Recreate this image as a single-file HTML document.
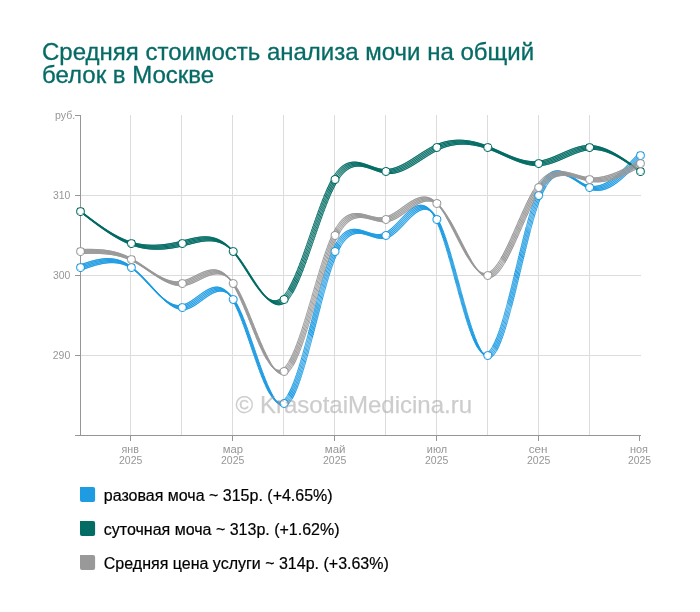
<!DOCTYPE html>
<html lang="ru"><head><meta charset="utf-8"><title>Средняя стоимость анализа мочи на общий белок в Москве</title>
<style>
html,body{margin:0;padding:0;background:#fff}
body{width:700px;height:612px;overflow:hidden}
svg{display:block}
text{font-family:"Liberation Sans",Arial,Helvetica,sans-serif;will-change:opacity}
</style></head><body>
<svg width="700" height="612" viewBox="0 0 700 612">
<filter id="brush" filterUnits="userSpaceOnUse" x="0" y="0" width="700" height="612" color-interpolation-filters="sRGB"><feOffset in="SourceGraphic" dx="-2" dy="-2" result="a"/><feOffset in="SourceGraphic" dx="-1" dy="-1" result="b"/><feOffset in="SourceGraphic" dx="1" dy="1" result="c"/><feOffset in="SourceGraphic" dx="2" dy="2" result="d"/><feMerge><feMergeNode in="a"/><feMergeNode in="b"/><feMergeNode in="SourceGraphic"/><feMergeNode in="c"/><feMergeNode in="d"/></feMerge></filter>
<rect width="700" height="612" fill="#fff"/>
<g class="title" fill="#066b65" stroke="#066b65" stroke-width=".3" font-size="24"><text x="42.0" y="59.8">Средняя стоимость анализа мочи на общий</text><text x="42.0" y="83.4">белок в Москве</text></g>
<path class="grid" d="M130.5 115V436M181.5 115V436M232.5 115V436M283.5 115V436M334.5 115V436M385.5 115V436M436.5 115V436M487.5 115V436M538.5 115V436M589.5 115V436M80 355.5H641M80 275.5H641M80 195.5H641" stroke="#dcdcdc" stroke-width="1" fill="none"/>
<path class="axis" d="M80.5 115V436M75 435.5H641M75 115.5H81M75 195.5H81M75 275.5H81M75 355.5H81M130.5 435V441M232.5 435V441M334.5 435V441M436.5 435V441M538.5 435V441M639.5 435V441" stroke="#969696" stroke-width="1" fill="none"/>
<g class="ylab" fill="#969696" font-size="10">
<text transform="translate(55.02 119) scale(1.06 1)">руб.</text><text transform="translate(52.9 199) scale(1.04 1)">310</text><text transform="translate(52.9 279) scale(1.04 1)">300</text><text transform="translate(52.77 359) scale(1.05 1)">290</text>
</g>
<g class="xlab" fill="#969696" font-size="10">
<text transform="translate(121.51 453) scale(1.07 1)">янв</text><text transform="translate(118.97 464) scale(1.05 1)">2025</text>
<text transform="translate(222.82 453) scale(1.13 1)">мар</text><text transform="translate(220.97 464) scale(1.05 1)">2025</text>
<text transform="translate(324.8 453) scale(1.15 1)">май</text><text transform="translate(322.97 464) scale(1.05 1)">2025</text>
<text transform="translate(426.84 453) scale(1.09 1)">июл</text><text transform="translate(424.97 464) scale(1.05 1)">2025</text>
<text transform="translate(528.7 453) scale(1.17 1)">сен</text><text transform="translate(526.97 464) scale(1.05 1)">2025</text>
<text transform="translate(629.94 453) scale(1.09 1)">ноя</text><text transform="translate(627.98 464) scale(1.04 1)">2025</text>
</g>
<g class="line blue" filter="url(#brush)" stroke="#1e9be1" stroke-width="1" stroke-linecap="square" fill="none">
<path d="M80.5 267.5zm1.02-.36zm1.02-.35zm1.01-.36zm1.02-.35zm1.02-.35zm1.02-.34zm1.02-.34zm1.02-.33zm1.01-.33zm1.02-.32zm1.02-.31zm1.02-.3zm1.02-.29zm1.01-.28zm1.02-.26zm1.02-.26zm1.02-.24zm1.02-.22zm1.02-.21zm1.01-.2zm1.02-.17zm1.02-.16zm1.02-.14zm1.02-.12zm1.01-.1zm1.02-.08zm1.02-.06zm1.02-.03zm1.02-.01zm1.02 .02zm1.01 .04zm1.02 .07zm1.02 .09zm1.02 .12zm1.02 .16zm1.01 .18zm1.02 .21zm1.02 .25zm1.02 .28zm1.02 .31zm1.02 .34zm1.01 .39zm1.02 .41zm1.02 .46zm1.02 .49zm1.02 .53zm1.01 .57zm1.02 .61zm1.02 .65zm1.02 .69zm1.02 .74zm1.02 .77zm1.01 .81zm1.02 .85zm1.02 .89zm1.02 .91zm1.02 .94zm1.01 .97zm1.02 .99zm1.02 1.02zm1.02 1.03zm1.02 1.05zm1.02 1.07zm1.01 1.07zm1.02 1.09zm1.02 1.09zm1.02 1.1zm1.02 1.1zm1.01 1.11zm1.02 1.1zm1.02 1.09zm1.02 1.09zm1.02 1.08zm1.02 1.07zm1.01 1.05zm1.02 1.04zm1.02 1.02zm1.02 1zm1.02 .97zm1.01 .95zm1.02 .92zm1.02 .89zm1.02 .86zm1.02 .82zm1.02 .79zm1.01 .74zm1.02 .71zm1.02 .65zm1.02 .61zm1.02 .57zm1.01 .51zm1.02 .45zm1.02 .4zm1.02 .34zm1.02 .28zm1.02 .22zm1.01 .15zm1.02 .08zm1.02 .01zm1.02-.06zm1.02-.14zm1.01-.2zm1.02-.28zm1.02-.33zm1.02-.4zm1.02-.44zm1.02-.5zm1.01-.54zm1.02-.58zm1.02-.62zm1.02-.65zm1.02-.67zm1.01-.7zm1.02-.72zm1.02-.73zm1.02-.74zm1.02-.75zm1.02-.75zm1.01-.74zm1.02-.74zm1.02-.72zm1.02-.71zm1.02-.69zm1.01-.66zm1.02-.63zm1.02-.6zm1.02-.56zm1.02-.52zm1.02-.47zm1.01-.42zm1.02-.36zm1.02-.3zm1.02-.24zm1.02-.17zm1.01-.09zm1.02-.02zm1.02 .07zm1.02 .15zm1.02 .24zm1.02 .34zm1.01 .44zm1.02 .54zm1.02 .65zm1.02 .76zm1.02 .88zm1.01 1zm1.02 1.13zm1.02 1.26zm1.02 1.39zm1.02 1.53zm1.02 1.67zm.99 1.77zm.99 1.88zm.56 1.11zm.51 1.05zm.51 1.07zm.51 1.1zm.51 1.12zm.51 1.16zm.51 1.17zm.5 1.2zm.51 1.23zm.51 1.24zm.51 1.27zm.51 1.28zm.51 1.31zm.51 1.32zm.51 1.34zm.51 1.36zm.51 1.37zm.51 1.38zm.5 1.4zm.51 1.42zm.51 1.42zm.51 1.43zm.51 1.45zm.51 1.45zm.51 1.46zm.51 1.47zm.51 1.47zm.51 1.48zm.51 1.49zm.5 1.48zm.51 1.49zm.51 1.49zm.51 1.49zm.51 1.49zm.51 1.49zm.51 1.49zm.51 1.48zm.51 1.48zm.51 1.47zm.51 1.47zm.5 1.46zm.51 1.45zm.51 1.45zm.51 1.43zm.51 1.42zm.51 1.41zm.51 1.4zm.51 1.39zm.51 1.37zm.51 1.35zm.51 1.34zm.5 1.32zm.51 1.31zm.51 1.28zm.51 1.26zm.51 1.25zm.51 1.22zm.51 1.2zm.51 1.17zm.51 1.15zm.51 1.12zm.51 1.1zm.5 1.07zm.51 1.04zm.51 1.02zm.98 1.86zm1.05 1.85zm1.03 1.69zm1.02 1.52zm1.01 1.37zm1.02 1.22zm1.02 1.04zm1.02 .88zm1.02 .69zm1.01 .5zm1.02 .31zm1.02 .11zm1.02-.11zm1.02-.32zm1.02-.55zm1.01-.78zm1.02-.99zm1.02-1.2zm1.02-1.41zm1.02-1.6zm.99-1.74zm.53-1.01zm.51-1zm.51-1.05zm.51-1.09zm.51-1.13zm.51-1.16zm.51-1.21zm.51-1.25zm.51-1.28zm.51-1.32zm.5-1.36zm.51-1.38zm.51-1.43zm.51-1.45zm.51-1.48zm.51-1.52zm.51-1.54zm.51-1.57zm.51-1.6zm.51-1.63zm.51-1.65zm.5-1.67zm.51-1.7zm.51-1.72zm.51-1.74zm.51-1.76zm.51-1.78zm.51-1.8zm.51-1.82zm.51-1.83zm.51-1.85zm.51-1.86zm.5-1.88zm.51-1.89zm.51-1.9zm.51-1.91zm.51-1.93zm.51-1.93zm.51-1.93zm.51-1.94zm.5-1.94zm.51-1.95zm.51-1.96zm.51-1.96zm.51-1.96zm.51-1.96zm.5-1.97zm.51-1.96zm.51-1.96zm.51-1.97zm.51-1.95zm.51-1.96zm.51-1.95zm.51-1.94zm.51-1.93zm.51-1.92zm.51-1.91zm.51-1.9zm.51-1.88zm.51-1.88zm.51-1.86zm.51-1.84zm.51-1.83zm.51-1.82zm.51-1.79zm.5-1.78zm.51-1.76zm.51-1.74zm.51-1.71zm.51-1.69zm.51-1.67zm.51-1.65zm.51-1.62zm.51-1.59zm.51-1.57zm.51-1.54zm.5-1.5zm.51-1.48zm.51-1.45zm.51-1.41zm.51-1.38zm.51-1.35zm.51-1.31zm.51-1.28zm.51-1.24zm.51-1.2zm.51-1.16zm.5-1.12zm.51-1.08zm.51-1.05zm.51-1zm.99-1.85zm1.05-1.8zm1.02-1.62zm1.01-1.47zm1.02-1.35zm1.02-1.22zm1.02-1.1zm1.02-.98zm1.02-.87zm1.01-.77zm1.02-.66zm1.02-.57zm1.02-.48zm1.02-.39zm1.01-.3zm1.02-.23zm1.02-.16zm1.02-.09zm1.02-.03zm1.02 .02zm1.01 .08zm1.02 .13zm1.02 .17zm1.02 .21zm1.02 .24zm1.01 .27zm1.02 .29zm1.02 .31zm1.02 .33zm1.02 .33zm1.02 .33zm1.01 .34zm1.02 .32zm1.02 .32zm1.02 .3zm1.02 .28zm1.01 .25zm1.02 .22zm1.02 .19zm1.02 .15zm1.02 .1zm1.02 .04zm1.01-0zm1.02-.07zm1.02-.13zm1.02-.2zm1.02-.27zm1.01-.36zm1.02-.44zm1.02-.52zm1.02-.59zm1.02-.66zm1.02-.73zm1.01-.78zm1.02-.83zm1.02-.89zm1.02-.93zm1.02-.96zm1.01-1zm1.02-1.02zm1.02-1.04zm1.02-1.06zm1.02-1.08zm1.02-1.07zm1.01-1.08zm1.02-1.07zm1.02-1.07zm1.02-1.04zm1.02-1.03zm1.01-1zm1.02-.97zm1.02-.93zm1.02-.89zm1.02-.85zm1.02-.79zm1.01-.73zm1.02-.68zm1.02-.6zm1.02-.53zm1.02-.45zm1.01-.37zm1.02-.28zm1.02-.18zm1.02-.09zm1.02 .02zm1.02 .13zm1.01 .25zm1.02 .36zm1.02 .5zm1.02 .62zm1.02 .76zm1.01 .9zm1.02 1.05zm1.02 1.2zm1.02 1.36zm1.02 1.53zm1.01 1.68zm.99 1.8zm.54 1.07zm.51 1.04zm.51 1.08zm.51 1.13zm.51 1.17zm.51 1.2zm.51 1.24zm.51 1.28zm.51 1.32zm.5 1.35zm.51 1.38zm.51 1.42zm.51 1.45zm.51 1.48zm.51 1.5zm.51 1.54zm.51 1.56zm.51 1.59zm.51 1.61zm.51 1.64zm.5 1.66zm.51 1.68zm.51 1.7zm.51 1.71zm.51 1.74zm.51 1.76zm.51 1.77zm.51 1.78zm.51 1.8zm.51 1.81zm.51 1.82zm.5 1.84zm.51 1.84zm.51 1.85zm.51 1.85zm.51 1.87zm.51 1.86zm.51 1.87zm.51 1.88zm.51 1.87zm.51 1.88zm.51 1.87zm.5 1.87zm.51 1.87zm.51 1.87zm.51 1.86zm.51 1.85zm.51 1.85zm.51 1.84zm.51 1.82zm.51 1.82zm.51 1.8zm.51 1.8zm.5 1.77zm.51 1.77zm.51 1.74zm.51 1.73zm.51 1.71zm.51 1.69zm.51 1.67zm.51 1.65zm.51 1.62zm.51 1.6zm.51 1.58zm.5 1.55zm.51 1.52zm.51 1.49zm.51 1.47zm.51 1.43zm.51 1.4zm.51 1.37zm.51 1.33zm.51 1.3zm.51 1.26zm.51 1.22zm.5 1.19zm.51 1.14zm.51 1.11zm.51 1.06zm.51 1.02zm.99 1.86zm1.05 1.77zm1.02 1.53zm1.01 1.32zm1.02 1.12zm1.02 .89zm1.02 .66zm1.02 .42zm1.01 .18zm1.02-.08zm1.02-.34zm1.02-.6zm1.02-.85zm1.02-1.08zm1.01-1.32zm1.02-1.54zm1-1.72zm.98-1.87zm.49-1.01zm.5-1.06zm.49-1.11zm.5-1.15zm.5-1.19zm.49-1.24zm.5-1.29zm.5-1.32zm.5-1.37zm.5-1.4zm.5-1.45zm.51-1.48zm.5-1.52zm.5-1.55zm.51-1.59zm.5-1.62zm.5-1.65zm.51-1.69zm.5-1.71zm.51-1.75zm.5-1.77zm.51-1.8zm.5-1.82zm.51-1.85zm.51-1.88zm.5-1.89zm.51-1.92zm.51-1.94zm.5-1.95zm.26-1.01zm.5-1.94zm.26-1.02zm.26-1.04zm.49-1.94zm.26-1.05zm.27-1.07zm.48-1.94zm.27-1.08zm.27-1.09zm.47-1.94zm.27-1.1zm.27-1.11zm.48-1.95zm.27-1.11zm.27-1.13zm.47-1.94zm.28-1.13zm.27-1.14zm.47-1.94zm.27-1.14zm.28-1.15zm.47-1.94zm.27-1.15zm.28-1.14zm.46-1.95zm.28-1.14zm.28-1.14zm.46-1.95zm.28-1.14zm.27-1.14zm.47-1.94zm.28-1.13zm.27-1.13zm.47-1.94zm.28-1.12zm.27-1.12zm.48-1.94zm.27-1.1zm.27-1.1zm.48-1.94zm.27-1.08zm.27-1.07zm.48-1.94zm.27-1.06zm.26-1.04zm.5-1.94zm.26-1.03zm.26-1.01zm.5-1.94zm.52-1.96zm.51-1.93zm.51-1.91zm.51-1.88zm.51-1.85zm.51-1.84zm.51-1.81zm.5-1.78zm.51-1.75zm.51-1.72zm.51-1.7zm.51-1.66zm.51-1.64zm.51-1.59zm.51-1.57zm.51-1.53zm.51-1.49zm.51-1.46zm.5-1.41zm.51-1.38zm.51-1.34zm.51-1.29zm.51-1.25zm.51-1.21zm.51-1.17zm.51-1.12zm.51-1.09zm.51-1.05zm.51-1zm.99-1.85zm1.04-1.79zm1.02-1.6zm1.02-1.46zm1.02-1.31zm1.01-1.19zm1.02-1.06zm1.02-.93zm1.02-.81zm1.02-.7zm1.02-.59zm1.01-.49zm1.02-.38zm1.02-.29zm1.02-.19zm1.02-.11zm1.01-.03zm1.02 .05zm1.02 .13zm1.02 .19zm1.02 .26zm1.02 .32zm1.01 .37zm1.02 .42zm1.02 .47zm1.02 .51zm1.02 .55zm1.01 .57zm1.02 .61zm1.02 .63zm1.02 .65zm1.02 .66zm1.02 .67zm1.01 .67zm1.02 .67zm1.02 .67zm1.02 .66zm1.02 .65zm1.01 .63zm1.02 .6zm1.02 .58zm1.02 .55zm1.02 .51zm1.02 .46zm1.01 .42zm1.02 .37zm1.02 .32zm1.02 .26zm1.02 .2zm1.01 .15zm1.02 .1zm1.02 .04zm1.02-.01zm1.02-.05zm1.02-.11zm1.01-.15zm1.02-.2zm1.02-.25zm1.02-.29zm1.02-.33zm1.01-.37zm1.02-.42zm1.02-.45zm1.02-.5zm1.02-.53zm1.02-.57zm1.01-.6zm1.02-.63zm1.02-.67zm1.02-.7zm1.02-.73zm1.01-.76zm1.02-.79zm1.02-.81zm1.02-.84zm1.02-.87zm1.02-.89zm1.01-.91zm1.02-.93zm1.02-.95zm1.02-.97zm1.02-.99zm1.01-1.01zm1.02-1.02zm1.02-1.03zm1.02-1.05zm1.02-1.06zm1.02-1.07zm1.01-1.09zm1.02-1.09zm1.02-1.09zm1.02-1.11zm1.02-1.11zm1.01-1.11zm1.02-1.11zm1.02-1.12z"/>
<path d="M81.01 267.32zm1.02-.36zm1.02-.35zm1.01-.35zm1.02-.35zm1.02-.35zm1.02-.34zm1.02-.34zm1.01-.33zm1.02-.32zm1.02-.31zm1.02-.31zm1.02-.29zm1.02-.29zm1.01-.27zm1.02-.26zm1.02-.25zm1.02-.23zm1.02-.22zm1.01-.2zm1.02-.19zm1.02-.17zm1.02-.15zm1.02-.13zm1.02-.11zm1.01-.09zm1.02-.06zm1.02-.05zm1.02-.02zm1.02 0zm1.01 .03zm1.02 .06zm1.02 .08zm1.02 .11zm1.02 .14zm1.02 .17zm1.01 .19zm1.02 .23zm1.02 .26zm1.02 .3zm1.02 .33zm1.01 .36zm1.02 .4zm1.02 .43zm1.02 .48zm1.02 .51zm1.02 .55zm1.01 .59zm1.02 .63zm1.02 .67zm1.02 .71zm1.02 .76zm1.01 .79zm1.02 .83zm1.02 .87zm1.02 .9zm1.02 .93zm1.02 .95zm1.01 .98zm1.02 1.01zm1.02 1.02zm1.02 1.04zm1.02 1.06zm1.01 1.07zm1.02 1.09zm1.02 1.09zm1.02 1.09zm1.02 1.1zm1.02 1.11zm1.01 1.1zm1.02 1.09zm1.02 1.1zm1.02 1.08zm1.02 1.08zm1.01 1.06zm1.02 1.04zm1.02 1.03zm1.02 1.01zm1.02 .99zm1.02 .96zm1.01 .93zm1.02 .91zm1.02 .88zm1.02 .84zm1.02 .8zm1.01 .76zm1.02 .73zm1.02 .68zm1.02 .63zm1.02 .59zm1.02 .54zm1.01 .48zm1.02 .43zm1.02 .37zm1.02 .31zm1.02 .25zm1.01 .18zm1.02 .12zm1.02 .05zm1.02-.03zm1.02-.1zm1.02-.17zm1.01-.24zm1.02-.31zm1.02-.36zm1.02-.42zm1.02-.48zm1.01-.51zm1.02-.57zm1.02-.6zm1.02-.63zm1.02-.66zm1.02-.69zm1.01-.71zm1.02-.73zm1.02-.73zm1.02-.75zm1.02-.75zm1.01-.74zm1.02-.74zm1.02-.73zm1.02-.72zm1.02-.7zm1.02-.67zm1.01-.65zm1.02-.62zm1.02-.58zm1.02-.53zm1.02-.5zm1.01-.44zm1.02-.39zm1.02-.34zm1.02-.27zm1.02-.2zm1.02-.13zm1.01-.06zm1.02 .02zm1.02 .11zm1.02 .2zm1.02 .29zm1.01 .39zm1.02 .48zm1.02 .6zm1.02 .71zm1.02 .82zm1.02 .94zm1.01 1.06zm1.02 1.19zm1.02 1.33zm1.02 1.46zm1.02 1.6zm1 1.72zm.99 1.82zm.55 1.06zm.95 1.91zm.5 1.05zm.5 1.08zm.5 1.1zm.5 1.13zm.5 1.15zm.51 1.18zm.5 1.21zm.5 1.22zm.51 1.25zm.5 1.27zm.5 1.28zm.51 1.31zm.5 1.32zm.51 1.35zm.51 1.35zm.5 1.38zm.51 1.38zm.5 1.4zm.51 1.42zm.51 1.42zm.5 1.44zm.51 1.44zm.51 1.46zm.51 1.46zm.5 1.47zm.51 1.47zm.51 1.48zm.51 1.48zm.51 1.49zm.51 1.49zm.51 1.49zm.51 1.49zm.5 1.49zm.51 1.49zm.51 1.48zm.51 1.49zm.51 1.47zm.51 1.48zm.51 1.46zm.52 1.46zm.51 1.46zm.51 1.44zm.51 1.43zm.51 1.42zm.51 1.41zm.51 1.4zm.52 1.38zm.51 1.37zm.51 1.36zm.51 1.33zm.52 1.32zm.51 1.31zm.52 1.28zm.51 1.26zm.52 1.24zm.51 1.22zm.52 1.19zm.51 1.18zm.52 1.14zm.52 1.12zm.52 1.1zm.51 1.06zm.52 1.04zm.52 1zm.56 1.05zm1.02 1.8zm1.53 2.45zm1.01 1.45zm1.02 1.29zm1.02 1.13zm1.02 .96zm1.02 .79zm1.02 .6zm1.01 .4zm1.02 .21zm1.02 0zm1.02-.21zm1.02-.44zm1.01-.66zm1.02-.89zm1.02-1.1zm1.02-1.3zm1.02-1.5zm1.01-1.69zm.98-1.81zm.99-1.98zm.5-1.05zm.49-1.1zm.5-1.13zm.5-1.18zm.5-1.21zm.5-1.25zm.5-1.29zm.5-1.32zm.5-1.35zm.5-1.4zm.5-1.42zm.51-1.45zm.5-1.49zm.5-1.52zm.51-1.54zm.5-1.57zm.51-1.6zm.5-1.63zm.51-1.65zm.5-1.68zm.51-1.7zm.5-1.72zm.51-1.74zm.51-1.76zm.5-1.78zm.51-1.8zm.51-1.82zm.5-1.84zm.51-1.85zm.51-1.86zm.5-1.88zm.51-1.89zm.51-1.9zm.51-1.91zm.51-1.92zm.5-1.93zm.51-1.94zm.51-1.95zm.51-1.95zm.51-1.95zm.51-1.96zm.51-1.96zm.5-1.96zm.51-1.97zm.51-1.96zm.51-1.97zm.51-1.96zm.51-1.96zm.51-1.95zm.51-1.95zm.51-1.94zm.51-1.94zm.51-1.93zm.51-1.91zm.51-1.91zm.51-1.9zm.51-1.89zm.51-1.87zm.51-1.86zm.52-1.85zm.51-1.83zm.51-1.81zm.51-1.8zm.51-1.77zm.51-1.76zm.52-1.73zm.51-1.72zm.51-1.69zm.52-1.67zm.51-1.64zm.51-1.62zm.52-1.59zm.51-1.57zm.52-1.53zm.51-1.51zm.52-1.48zm.51-1.44zm.52-1.41zm.51-1.38zm.52-1.34zm.52-1.31zm.52-1.27zm.52-1.24zm.52-1.19zm.52-1.16zm.52-1.12zm.52-1.07zm.52-1.04zm.57-1.08zm1-1.8zm1.04-1.71zm1.02-1.54zm1.01-1.41zm1.02-1.28zm1.02-1.16zm1.02-1.04zm1.02-.93zm1.01-.82zm1.02-.71zm1.02-.62zm1.02-.52zm1.02-.43zm1.02-.35zm1.01-.27zm1.02-.19zm1.02-.13zm1.02-.06zm1.02 0zm1.01 .06zm1.02 .1zm1.02 .15zm1.02 .19zm1.02 .23zm1.02 .25zm1.01 .28zm1.02 .31zm1.02 .31zm1.02 .33zm1.02 .33zm1.01 .34zm1.02 .33zm1.02 .32zm1.02 .31zm1.02 .29zm1.02 .27zm1.01 .24zm1.02 .2zm1.02 .17zm1.02 .12zm1.02 .08zm1.01 .02zm1.02-.04zm1.02-.09zm1.02-.17zm1.02-.24zm1.02-.31zm1.01-.4zm1.02-.48zm1.02-.55zm1.02-.63zm1.02-.7zm1.01-.75zm1.02-.81zm1.02-.86zm1.02-.91zm1.02-.94zm1.02-.98zm1.01-1.01zm1.02-1.04zm1.02-1.05zm1.02-1.07zm1.02-1.07zm1.01-1.08zm1.02-1.08zm1.02-1.07zm1.02-1.05zm1.02-1.04zm1.02-1.01zm1.01-.99zm1.02-.95zm1.02-.91zm1.02-.87zm1.02-.82zm1.01-.77zm1.02-.7zm1.02-.64zm1.02-.57zm1.02-.49zm1.02-.41zm1.01-.32zm1.02-.23zm1.02-.14zm1.02-.03zm1.02 .07zm1.01 .19zm1.02 .31zm1.02 .42zm1.02 .56zm1.02 .69zm1.02 .83zm1.01 .98zm1.02 1.12zm1.02 1.28zm1.02 1.44zm1.02 1.61zm.99 1.74zm.99 1.88zm.49 1.01zm.5 1.05zm.49 1.09zm.5 1.13zm.5 1.17zm.5 1.21zm.5 1.24zm.5 1.29zm.5 1.31zm.5 1.36zm.5 1.38zm.5 1.42zm.51 1.45zm.5 1.48zm.5 1.51zm.51 1.54zm.5 1.56zm.51 1.59zm.5 1.62zm.51 1.63zm.5 1.66zm.51 1.68zm.51 1.7zm.5 1.72zm.51 1.74zm.51 1.76zm.5 1.77zm.51 1.78zm.51 1.8zm.51 1.81zm.5 1.83zm.51 1.83zm.51 1.84zm.51 1.85zm.51 1.86zm.5 1.86zm.51 1.87zm.51 1.87zm.51 1.87zm.51 1.88zm.51 1.87zm.51 1.88zm.51 1.87zm.51 1.87zm.51 1.86zm.51 1.86zm.51 1.86zm.51 1.84zm.51 1.84zm.51 1.83zm.51 1.81zm.51 1.81zm.51 1.79zm.51 1.78zm.51 1.76zm.52 1.74zm.51 1.73zm.51 1.71zm.51 1.69zm.51 1.67zm.52 1.64zm.51 1.63zm.51 1.6zm.52 1.57zm.51 1.55zm.52 1.52zm.51 1.49zm.52 1.46zm.51 1.43zm.52 1.4zm.52 1.36zm.51 1.33zm.52 1.29zm.52 1.26zm.52 1.22zm.52 1.18zm.52 1.14zm.52 1.1zm.53 1.06zm.52 1.01zm.56 1.02zm1.53 2.51zm1.01 1.43zm1.02 1.22zm1.02 1zm1.02 .78zm1.02 .54zm1.02 .3zm1.01 .05zm1.02-.21zm1.02-.47zm1.02-.72zm1.02-.97zm1.01-1.2zm1.02-1.43zm1.02-1.65zm.98-1.78zm.55-1.07zm.51-1.05zm.51-1.1zm.51-1.15zm.5-1.19zm.51-1.24zm.51-1.27zm.51-1.33zm.51-1.36zm.51-1.4zm.51-1.44zm.51-1.48zm.51-1.52zm.51-1.55zm.51-1.58zm.5-1.62zm.51-1.66zm.51-1.68zm.51-1.71zm.51-1.75zm.51-1.77zm.51-1.8zm.51-1.82zm.51-1.85zm.51-1.87zm.51-1.9zm.5-1.91zm.51-1.94zm.51-1.94zm.5-1.95zm.26-1.01zm.26-1.02zm.49-1.94zm.26-1.04zm.27-1.05zm.48-1.94zm.27-1.07zm.27-1.08zm.48-1.94zm.27-1.09zm.27-1.1zm.47-1.94zm.27-1.11zm.27-1.12zm.48-1.95zm.27-1.12zm.27-1.13zm.47-1.95zm.28-1.13zm.27-1.14zm.47-1.95zm.27-1.14zm.28-1.14zm.47-1.95zm.27-1.14zm.28-1.15zm.46-1.94zm.28-1.15zm.27-1.14zm.47-1.94zm.28-1.14zm.27-1.13zm.47-1.95zm.28-1.12zm.27-1.12zm.48-1.95zm.27-1.11zm.27-1.1zm.48-1.94zm.27-1.1zm.27-1.08zm.48-1.94zm.27-1.07zm.27-1.06zm.49-1.94zm.26-1.04zm.26-1.03zm.5-1.94zm.26-1.01zm.52-1.96zm.51-1.95zm.51-1.92zm.51-1.9zm.51-1.88zm.51-1.86zm.52-1.83zm.51-1.81zm.51-1.78zm.52-1.75zm.51-1.72zm.51-1.7zm.52-1.66zm.51-1.63zm.52-1.59zm.51-1.57zm.52-1.52zm.52-1.49zm.51-1.46zm.52-1.41zm.52-1.37zm.52-1.34zm.52-1.29zm.52-1.24zm.52-1.21zm.52-1.16zm.52-1.12zm.53-1.08zm.52-1.04zm.56-1.08zm1.01-1.8zm1.03-1.69zm1.02-1.52zm1.02-1.39zm1.02-1.25zm1.01-1.12zm1.02-1zm1.02-.87zm1.02-.76zm1.02-.64zm1.01-.54zm1.02-.43zm1.02-.34zm1.02-.24zm1.02-.15zm1.02-.07zm1.01 .02zm1.02 .09zm1.02 .16zm1.02 .22zm1.02 .29zm1.01 .35zm1.02 .39zm1.02 .45zm1.02 .49zm1.02 .53zm1.02 .56zm1.01 .59zm1.02 .62zm1.02 .64zm1.02 .65zm1.02 .67zm1.01 .67zm1.02 .68zm1.02 .67zm1.02 .67zm1.02 .65zm1.02 .64zm1.01 .61zm1.02 .6zm1.02 .56zm1.02 .53zm1.02 .48zm1.01 .45zm1.02 .4zm1.02 .34zm1.02 .29zm1.02 .23zm1.02 .18zm1.01 .12zm1.02 .07zm1.02 .02zm1.02-.04zm1.02-.08zm1.01-.13zm1.02-.18zm1.02-.22zm1.02-.27zm1.02-.31zm1.02-.35zm1.01-.4zm1.02-.43zm1.02-.48zm1.02-.51zm1.02-.55zm1.01-.58zm1.02-.62zm1.02-.65zm1.02-.69zm1.02-.71zm1.02-.75zm1.01-.77zm1.02-.8zm1.02-.83zm1.02-.85zm1.02-.88zm1.01-.9zm1.02-.92zm1.02-.94zm1.02-.96zm1.02-.99zm1.02-.99zm1.01-1.02zm1.02-1.02zm1.02-1.05zm1.02-1.05zm1.02-1.07zm1.01-1.07zm1.02-1.09zm1.02-1.09zm1.02-1.1zm1.02-1.11zm1.02-1.11zm1.01-1.12zm1.02-1.11zm1.02-1.12z"/>
<path d="M234.75 302.06zm1.02 1.87zm.96 1.88zm33.15 86.31zm1 1.82zm1.04 1.78zm18.33 .63zm1.47-2.77zm18.89-59.11zm.51-1.95zm.51-1.95zm.51-1.95zm.51-1.96zm.5-1.96zm.51-1.97zm.51-1.96zm.51-1.97zm.51-1.96zm.51-1.96zm.51-1.96zm.51-1.95zm.51-1.95zm.51-1.94zm.51-1.94zm19.3-58.78zm.55-1.01zm97.75-27.71zm1.01 1.86zm41.24 127.31zm1.01 1.8zm15.79-.59zm14.76-43.89zm.51-1.96zm17.31-70.2zm.51-1.95zm14.72-43.3zm.55-1.01z"/>
<path d="M235.26 302.98zm35.64 91.01zm19.85 1.45zm47.86-150.99zm97.74-25.9zm42.77 130.08zm16.29-1.56zm48.36-162.25z"/>
</g>
<g class="line green" filter="url(#brush)" stroke="#026c65" stroke-width="1" stroke-linecap="square" fill="none">
<path d="M80.5 211.5zm1.02 .79zm1.02 .78zm1.01 .79zm1.02 .78zm1.02 .79zm1.02 .78zm1.02 .78zm1.02 .78zm1.01 .77zm1.02 .77zm1.02 .77zm1.02 .76zm1.02 .76zm1.01 .76zm1.02 .75zm1.02 .74zm1.02 .74zm1.02 .73zm1.02 .73zm1.01 .72zm1.02 .71zm1.02 .71zm1.02 .7zm1.02 .69zm1.01 .68zm1.02 .67zm1.02 .66zm1.02 .66zm1.02 .64zm1.02 .63zm1.01 .63zm1.02 .61zm1.02 .6zm1.02 .59zm1.02 .57zm1.01 .57zm1.02 .55zm1.02 .54zm1.02 .53zm1.02 .51zm1.02 .49zm1.01 .49zm1.02 .47zm1.02 .45zm1.02 .44zm1.02 .42zm1.01 .4zm1.02 .39zm1.02 .38zm1.02 .35zm1.02 .34zm1.02 .32zm1.01 .3zm1.02 .29zm1.02 .26zm1.02 .26zm1.02 .23zm1.01 .22zm1.02 .21zm1.02 .19zm1.02 .17zm1.02 .16zm1.02 .14zm1.01 .13zm1.02 .11zm1.02 .1zm1.02 .09zm1.02 .07zm1.01 .06zm1.02 .05zm1.02 .03zm1.02 .02zm1.02 0zm1.02-0zm1.01-.02zm1.02-.03zm1.02-.04zm1.02-.05zm1.02-.07zm1.01-.07zm1.02-.09zm1.02-.1zm1.02-.1zm1.02-.12zm1.02-.13zm1.01-.13zm1.02-.15zm1.02-.15zm1.02-.17zm1.02-.17zm1.01-.18zm1.02-.19zm1.02-.2zm1.02-.21zm1.02-.21zm1.02-.22zm1.01-.23zm1.02-.23zm1.02-.24zm1.02-.25zm1.02-.25zm1.01-.26zm1.02-.26zm1.02-.27zm1.02-.26zm1.02-.27zm1.02-.26zm1.01-.26zm1.02-.25zm1.02-.25zm1.02-.24zm1.02-.24zm1.01-.22zm1.02-.21zm1.02-.2zm1.02-.18zm1.02-.17zm1.02-.15zm1.01-.14zm1.02-.11zm1.02-.09zm1.02-.07zm1.02-.05zm1.01-.02zm1.02 0zm1.02 .04zm1.02 .06zm1.02 .09zm1.02 .12zm1.01 .16zm1.02 .19zm1.02 .23zm1.02 .26zm1.02 .31zm1.01 .34zm1.02 .39zm1.02 .42zm1.02 .48zm1.02 .51zm1.02 .57zm1.01 .61zm1.02 .66zm1.02 .71zm1.02 .77zm1.02 .82zm1.01 .87zm1.02 .93zm1.02 .99zm1.02 1.04zm1.02 1.11zm1.02 1.17zm1.01 1.22zm1.02 1.28zm1.02 1.33zm1.02 1.37zm1.02 1.42zm1.01 1.45zm1.02 1.48zm1.02 1.52zm1.02 1.53zm1.02 1.56zm1.02 1.58zm1.01 1.58zm1.02 1.6zm1.02 1.6zm1.02 1.6zm1.02 1.59zm1.01 1.58zm1.02 1.58zm1.02 1.55zm1.02 1.54zm1.02 1.51zm1.02 1.48zm1.01 1.45zm1.02 1.41zm1.02 1.37zm1.02 1.32zm1.02 1.27zm1.01 1.22zm1.02 1.17zm1.02 1.1zm1.02 1.03zm1.02 .96zm1.02 .89zm1.01 .81zm1.02 .72zm1.02 .64zm1.02 .55zm1.02 .45zm1.01 .36zm1.02 .25zm1.02 .14zm1.02 .03zm1.02-.08zm1.02-.21zm1.01-.33zm1.02-.46zm1.02-.59zm1.02-.72zm1.02-.87zm1.01-1.01zm1.02-1.15zm1.02-1.29zm1.02-1.41zm1.02-1.54zm1.02-1.66zm1-1.74zm.99-1.83zm.55-1.05zm.51-1.01zm.51-1.03zm.51-1.05zm.51-1.07zm.51-1.1zm.51-1.12zm.5-1.14zm.51-1.17zm.51-1.18zm.51-1.2zm.51-1.22zm.51-1.24zm.51-1.25zm.51-1.28zm.51-1.29zm.51-1.3zm.51-1.32zm.5-1.33zm.51-1.35zm.51-1.36zm.51-1.37zm.51-1.38zm.51-1.4zm.51-1.4zm.51-1.42zm.51-1.42zm.51-1.43zm.51-1.44zm.5-1.45zm.51-1.45zm.51-1.46zm.51-1.46zm.51-1.47zm.51-1.47zm.51-1.48zm.51-1.47zm.51-1.48zm.51-1.48zm.51-1.48zm.5-1.49zm.51-1.48zm.51-1.47zm.51-1.48zm.51-1.48zm.51-1.47zm.51-1.46zm.51-1.47zm.51-1.45zm.51-1.45zm.51-1.45zm.5-1.44zm.51-1.43zm.51-1.42zm.51-1.41zm.51-1.4zm.51-1.39zm.51-1.38zm.51-1.37zm.51-1.36zm.51-1.34zm.51-1.33zm.5-1.32zm.51-1.3zm.51-1.28zm.51-1.27zm.51-1.25zm.51-1.24zm.51-1.21zm.51-1.2zm.51-1.18zm.51-1.15zm.51-1.14zm.5-1.11zm.51-1.1zm.51-1.07zm.51-1.04zm.51-1.03zm.97-1.88zm.56-1.03zm1-1.79zm1.03-1.73zm1.02-1.58zm1.02-1.48zm1.02-1.38zm1.02-1.26zm1.02-1.17zm1.01-1.07zm1.02-.98zm1.02-.89zm1.02-.8zm1.02-.72zm1.01-.63zm1.02-.56zm1.02-.48zm1.02-.41zm1.02-.34zm1.02-.28zm1.01-.21zm1.02-.16zm1.02-.09zm1.02-.05zm1.02 0zm1.01 .05zm1.02 .09zm1.02 .14zm1.02 .17zm1.02 .2zm1.02 .23zm1.01 .26zm1.02 .29zm1.02 .3zm1.02 .33zm1.02 .34zm1.01 .35zm1.02 .36zm1.02 .36zm1.02 .37zm1.02 .36zm1.02 .36zm1.01 .36zm1.02 .34zm1.02 .33zm1.02 .31zm1.02 .29zm1.01 .27zm1.02 .24zm1.02 .21zm1.02 .18zm1.02 .15zm1.02 .1zm1.01 .07zm1.02 .02zm1.02-.03zm1.02-.06zm1.02-.1zm1.01-.14zm1.02-.18zm1.02-.21zm1.02-.24zm1.02-.28zm1.02-.31zm1.01-.34zm1.02-.37zm1.02-.39zm1.02-.42zm1.02-.45zm1.01-.46zm1.02-.5zm1.02-.51zm1.02-.53zm1.02-.54zm1.02-.57zm1.01-.58zm1.02-.59zm1.02-.61zm1.02-.62zm1.02-.63zm1.01-.63zm1.02-.65zm1.02-.65zm1.02-.65zm1.02-.66zm1.02-.66zm1.01-.66zm1.02-.66zm1.02-.66zm1.02-.66zm1.02-.65zm1.01-.64zm1.02-.64zm1.02-.63zm1.02-.62zm1.02-.6zm1.02-.6zm1.01-.58zm1.02-.57zm1.02-.55zm1.02-.53zm1.02-.51zm1.01-.49zm1.02-.47zm1.02-.45zm1.02-.43zm1.02-.4zm1.02-.38zm1.01-.36zm1.02-.34zm1.02-.32zm1.02-.3zm1.02-.27zm1.01-.26zm1.02-.24zm1.02-.21zm1.02-.2zm1.02-.18zm1.02-.16zm1.01-.13zm1.02-.12zm1.02-.11zm1.02-.08zm1.02-.06zm1.01-.05zm1.02-.03zm1.02-.01zm1.02 .01zm1.02 .02zm1.02 .04zm1.01 .06zm1.02 .07zm1.02 .09zm1.02 .1zm1.02 .12zm1.01 .14zm1.02 .15zm1.02 .17zm1.02 .18zm1.02 .2zm1.02 .21zm1.01 .22zm1.02 .24zm1.02 .25zm1.02 .27zm1.02 .28zm1.01 .29zm1.02 .31zm1.02 .32zm1.02 .33zm1.02 .34zm1.02 .36zm1.01 .36zm1.02 .38zm1.02 .39zm1.02 .4zm1.02 .41zm1.01 .42zm1.02 .42zm1.02 .43zm1.02 .44zm1.02 .45zm1.02 .44zm1.01 .46zm1.02 .45zm1.02 .46zm1.02 .45zm1.02 .46zm1.01 .46zm1.02 .45zm1.02 .46zm1.02 .45zm1.02 .45zm1.02 .44zm1.01 .43zm1.02 .43zm1.02 .43zm1.02 .41zm1.02 .41zm1.01 .4zm1.02 .38zm1.02 .38zm1.02 .36zm1.02 .35zm1.02 .33zm1.01 .33zm1.02 .3zm1.02 .29zm1.02 .27zm1.02 .26zm1.01 .23zm1.02 .22zm1.02 .2zm1.02 .17zm1.02 .15zm1.02 .13zm1.01 .11zm1.02 .08zm1.02 .05zm1.02 .03zm1.02 .01zm1.01-.03zm1.02-.05zm1.02-.09zm1.02-.11zm1.02-.14zm1.02-.17zm1.01-.19zm1.02-.22zm1.02-.24zm1.02-.26zm1.02-.28zm1.01-.31zm1.02-.32zm1.02-.34zm1.02-.35zm1.02-.37zm1.02-.38zm1.01-.4zm1.02-.4zm1.02-.42zm1.02-.42zm1.02-.43zm1.01-.44zm1.02-.44zm1.02-.44zm1.02-.45zm1.02-.45zm1.02-.45zm1.01-.44zm1.02-.45zm1.02-.44zm1.02-.43zm1.02-.43zm1.01-.42zm1.02-.41zm1.02-.41zm1.02-.39zm1.02-.38zm1.02-.36zm1.01-.35zm1.02-.34zm1.02-.31zm1.02-.3zm1.02-.28zm1.01-.26zm1.02-.23zm1.02-.21zm1.02-.19zm1.02-.16zm1.02-.13zm1.01-.11zm1.02-.07zm1.02-.05zm1.02-.01zm1.02 .01zm1.01 .05zm1.02 .08zm1.02 .1zm1.02 .14zm1.02 .16zm1.02 .18zm1.01 .22zm1.02 .23zm1.02 .27zm1.02 .29zm1.02 .31zm1.01 .33zm1.02 .36zm1.02 .38zm1.02 .4zm1.02 .42zm1.02 .44zm1.01 .45zm1.02 .48zm1.02 .5zm1.02 .51zm1.02 .53zm1.01 .55zm1.02 .56zm1.02 .57zm1.02 .59zm1.02 .61zm1.02 .61zm1.01 .63zm1.02 .64zm1.02 .65zm1.02 .66zm1.02 .68zm1.01 .68zm1.02 .69zm1.02 .69zm1.02 .71zm1.02 .71zm1.02 .71zm1.01 .73zm1.02 .72zm1.02 .73zm1.02 .74zm1.02 .74zm1.01 .74zm1.02 .74zm1.02 .74z"/>
<path d="M81.01 211.89zm1.02 .79zm1.02 .79zm1.01 .78zm1.02 .79zm1.02 .78zm1.02 .78zm1.02 .78zm1.01 .77zm1.02 .78zm1.02 .77zm1.02 .76zm1.02 .76zm1.02 .76zm1.01 .75zm1.02 .75zm1.02 .74zm1.02 .74zm1.02 .73zm1.01 .72zm1.02 .72zm1.02 .71zm1.02 .7zm1.02 .69zm1.02 .69zm1.01 .67zm1.02 .67zm1.02 .66zm1.02 .65zm1.02 .64zm1.01 .63zm1.02 .61zm1.02 .61zm1.02 .59zm1.02 .59zm1.02 .57zm1.01 .56zm1.02 .54zm1.02 .53zm1.02 .52zm1.02 .51zm1.01 .49zm1.02 .47zm1.02 .46zm1.02 .45zm1.02 .43zm1.02 .41zm1.01 .4zm1.02 .38zm1.02 .36zm1.02 .35zm1.02 .33zm1.01 .31zm1.02 .29zm1.02 .28zm1.02 .26zm1.02 .25zm1.02 .22zm1.01 .22zm1.02 .19zm1.02 .18zm1.02 .17zm1.02 .15zm1.01 .14zm1.02 .12zm1.02 .1zm1.02 .1zm1.02 .08zm1.02 .06zm1.01 .05zm1.02 .04zm1.02 .03zm1.02 .01zm1.02 0zm1.01-.01zm1.02-.02zm1.02-.04zm1.02-.05zm1.02-.05zm1.02-.07zm1.01-.08zm1.02-.1zm1.02-.1zm1.02-.11zm1.02-.12zm1.01-.13zm1.02-.14zm1.02-.16zm1.02-.15zm1.02-.17zm1.02-.18zm1.01-.19zm1.02-.19zm1.02-.2zm1.02-.21zm1.02-.22zm1.01-.22zm1.02-.23zm1.02-.24zm1.02-.25zm1.02-.25zm1.02-.25zm1.01-.26zm1.02-.27zm1.02-.26zm1.02-.27zm1.02-.26zm1.01-.26zm1.02-.26zm1.02-.25zm1.02-.25zm1.02-.23zm1.02-.23zm1.01-.22zm1.02-.2zm1.02-.19zm1.02-.18zm1.02-.16zm1.01-.14zm1.02-.13zm1.02-.1zm1.02-.08zm1.02-.06zm1.02-.03zm1.01-.01zm1.02 .02zm1.02 .04zm1.02 .08zm1.02 .11zm1.01 .14zm1.02 .17zm1.02 .21zm1.02 .25zm1.02 .28zm1.02 .32zm1.01 .37zm1.02 .4zm1.02 .45zm1.02 .5zm1.02 .54zm1.01 .59zm1.02 .63zm1.02 .69zm1.02 .74zm1.02 .79zm1.02 .85zm1.01 .9zm1.02 .96zm1.02 1.01zm1.02 1.08zm1.02 1.14zm1.01 1.19zm1.02 1.26zm1.02 1.3zm1.02 1.35zm1.02 1.4zm1.02 1.43zm1.01 1.47zm1.02 1.5zm1.02 1.52zm1.02 1.55zm1.02 1.57zm1.01 1.58zm1.02 1.59zm1.02 1.6zm1.02 1.6zm1.02 1.59zm1.02 1.59zm1.01 1.58zm1.02 1.57zm1.02 1.54zm1.02 1.53zm1.02 1.49zm1.01 1.47zm1.02 1.43zm1.02 1.39zm1.02 1.35zm1.02 1.29zm1.02 1.25zm1.01 1.19zm1.02 1.13zm1.02 1.07zm1.02 1zm1.02 .92zm1.01 .85zm1.02 .77zm1.02 .69zm1.02 .59zm1.02 .5zm1.02 .4zm1.01 .31zm1.02 .19zm1.02 .09zm1.02-.03zm1.02-.14zm1.01-.27zm1.02-.39zm1.02-.52zm1.02-.66zm1.02-.8zm1.02-.94zm1.01-1.08zm1.02-1.22zm1.02-1.35zm1.02-1.47zm1.02-1.6zm1.01-1.71zm1-1.78zm.53-1.01zm.96-1.87zm.5-1zm.5-1.04zm.51-1.05zm.5-1.08zm.5-1.1zm.5-1.13zm.51-1.14zm.5-1.17zm.5-1.18zm.51-1.2zm.5-1.23zm.51-1.24zm.5-1.25zm.51-1.28zm.5-1.29zm.51-1.3zm.5-1.32zm.51-1.34zm.5-1.35zm.51-1.36zm.51-1.37zm.5-1.38zm.51-1.4zm.51-1.4zm.5-1.42zm.51-1.42zm.51-1.43zm.51-1.44zm.51-1.45zm.5-1.45zm.51-1.46zm.51-1.47zm.51-1.46zm.51-1.48zm.5-1.47zm.51-1.48zm.51-1.48zm.51-1.48zm.51-1.48zm.51-1.48zm.51-1.48zm.51-1.48zm.51-1.48zm.51-1.47zm.51-1.47zm.51-1.47zm.51-1.46zm.51-1.46zm.51-1.45zm.51-1.44zm.51-1.44zm.51-1.43zm.51-1.42zm.51-1.41zm.51-1.4zm.52-1.39zm.51-1.38zm.51-1.37zm.51-1.35zm.51-1.35zm.52-1.32zm.51-1.32zm.51-1.3zm.52-1.28zm.51-1.27zm.51-1.25zm.52-1.23zm.51-1.21zm.52-1.2zm.51-1.17zm.52-1.16zm.51-1.13zm.52-1.11zm.51-1.09zm.52-1.07zm.52-1.04zm.52-1.02zm.56-1.08zm.99-1.82zm1.04-1.8zm1.02-1.64zm1.02-1.54zm1.02-1.42zm1.02-1.32zm1.02-1.22zm1.01-1.12zm1.02-1.03zm1.02-.93zm1.02-.84zm1.02-.76zm1.02-.67zm1.01-.6zm1.02-.52zm1.02-.44zm1.02-.38zm1.02-.31zm1.01-.24zm1.02-.18zm1.02-.13zm1.02-.07zm1.02-.03zm1.02 .03zm1.01 .07zm1.02 .12zm1.02 .15zm1.02 .18zm1.02 .22zm1.01 .25zm1.02 .27zm1.02 .3zm1.02 .31zm1.02 .34zm1.02 .34zm1.01 .36zm1.02 .36zm1.02 .36zm1.02 .37zm1.02 .36zm1.01 .36zm1.02 .35zm1.02 .33zm1.02 .33zm1.02 .3zm1.02 .28zm1.01 .25zm1.02 .23zm1.02 .2zm1.02 .16zm1.02 .13zm1.01 .08zm1.02 .04zm1.02-0zm1.02-.04zm1.02-.09zm1.02-.12zm1.01-.15zm1.02-.2zm1.02-.23zm1.02-.26zm1.02-.29zm1.01-.33zm1.02-.35zm1.02-.38zm1.02-.41zm1.02-.43zm1.02-.46zm1.01-.48zm1.02-.5zm1.02-.52zm1.02-.54zm1.02-.55zm1.01-.58zm1.02-.58zm1.02-.61zm1.02-.61zm1.02-.62zm1.02-.63zm1.01-.64zm1.02-.65zm1.02-.65zm1.02-.66zm1.02-.66zm1.01-.66zm1.02-.66zm1.02-.66zm1.02-.66zm1.02-.65zm1.02-.65zm1.01-.64zm1.02-.63zm1.02-.63zm1.02-.61zm1.02-.6zm1.01-.59zm1.02-.57zm1.02-.56zm1.02-.54zm1.02-.53zm1.02-.5zm1.01-.48zm1.02-.46zm1.02-.44zm1.02-.41zm1.02-.39zm1.01-.38zm1.02-.35zm1.02-.32zm1.02-.31zm1.02-.29zm1.02-.27zm1.01-.24zm1.02-.23zm1.02-.2zm1.02-.19zm1.02-.17zm1.01-.15zm1.02-.13zm1.02-.11zm1.02-.09zm1.02-.07zm1.02-.06zm1.01-.04zm1.02-.02zm1.02 0zm1.02 .02zm1.02 .03zm1.01 .04zm1.02 .07zm1.02 .08zm1.02 .1zm1.02 .11zm1.02 .13zm1.01 .14zm1.02 .16zm1.02 .18zm1.02 .19zm1.02 .2zm1.01 .22zm1.02 .23zm1.02 .25zm1.02 .26zm1.02 .27zm1.02 .28zm1.01 .3zm1.02 .32zm1.02 .32zm1.02 .34zm1.02 .35zm1.01 .36zm1.02 .37zm1.02 .38zm1.02 .4zm1.02 .4zm1.02 .42zm1.01 .42zm1.02 .43zm1.02 .43zm1.02 .44zm1.02 .45zm1.01 .45zm1.02 .45zm1.02 .46zm1.02 .46zm1.02 .45zm1.02 .46zm1.01 .46zm1.02 .45zm1.02 .45zm1.02 .45zm1.02 .45zm1.01 .44zm1.02 .43zm1.02 .43zm1.02 .42zm1.02 .41zm1.02 .4zm1.01 .39zm1.02 .38zm1.02 .37zm1.02 .36zm1.02 .34zm1.01 .33zm1.02 .31zm1.02 .3zm1.02 .28zm1.02 .26zm1.02 .25zm1.01 .22zm1.02 .21zm1.02 .19zm1.02 .16zm1.02 .14zm1.01 .12zm1.02 .09zm1.02 .07zm1.02 .04zm1.02 .02zm1.02-.01zm1.01-.04zm1.02-.07zm1.02-.1zm1.02-.13zm1.02-.15zm1.01-.18zm1.02-.21zm1.02-.23zm1.02-.25zm1.02-.27zm1.02-.29zm1.01-.32zm1.02-.33zm1.02-.34zm1.02-.36zm1.02-.38zm1.01-.39zm1.02-.4zm1.02-.41zm1.02-.42zm1.02-.42zm1.02-.44zm1.01-.44zm1.02-.44zm1.02-.45zm1.02-.44zm1.02-.45zm1.01-.45zm1.02-.44zm1.02-.45zm1.02-.43zm1.02-.44zm1.02-.42zm1.01-.42zm1.02-.41zm1.02-.39zm1.02-.39zm1.02-.37zm1.01-.36zm1.02-.34zm1.02-.33zm1.02-.3zm1.02-.29zm1.02-.27zm1.01-.25zm1.02-.22zm1.02-.2zm1.02-.17zm1.02-.15zm1.01-.12zm1.02-.09zm1.02-.06zm1.02-.03zm1.02 0zm1.02 .03zm1.01 .07zm1.02 .09zm1.02 .12zm1.02 .14zm1.02 .18zm1.01 .2zm1.02 .22zm1.02 .25zm1.02 .28zm1.02 .3zm1.02 .32zm1.01 .35zm1.02 .36zm1.02 .39zm1.02 .41zm1.02 .43zm1.01 .45zm1.02 .47zm1.02 .49zm1.02 .5zm1.02 .52zm1.02 .54zm1.01 .55zm1.02 .57zm1.02 .59zm1.02 .59zm1.02 .61zm1.01 .62zm1.02 .64zm1.02 .65zm1.02 .65zm1.02 .67zm1.02 .67zm1.01 .69zm1.02 .69zm1.02 .7zm1.02 .71zm1.02 .72zm1.01 .71zm1.02 .73zm1.02 .73zm1.02 .73zm1.02 .74zm1.02 .74zm1.01 .74zm1.02 .74zm1.02 .74z"/>
<path d="M290.75 290.57zm1.02-1.82zm.97-1.84zm39.76-102.81zm.98-1.86zm1.06-1.88z"/>
<path d="M291.26 289.67zm42.77-108.41zm1.02-1.76z"/>
</g>
<g class="line gray" filter="url(#brush)" stroke="#999999" stroke-width="1" stroke-linecap="square" fill="none">
<path d="M80.5 251.5zm1.02-.02zm1.02-.02zm1.01-.02zm1.02-.02zm1.02-.01zm1.02-.02zm1.02-.01zm1.02-.01zm1.01-0zm1.02-.01zm1.02 .01zm1.02 .01zm1.02 .01zm1.01 .02zm1.02 .02zm1.02 .03zm1.02 .04zm1.02 .05zm1.02 .05zm1.01 .06zm1.02 .07zm1.02 .08zm1.02 .09zm1.02 .1zm1.01 .11zm1.02 .12zm1.02 .13zm1.02 .15zm1.02 .15zm1.02 .17zm1.01 .18zm1.02 .2zm1.02 .2zm1.02 .23zm1.02 .23zm1.01 .26zm1.02 .26zm1.02 .29zm1.02 .3zm1.02 .32zm1.02 .33zm1.01 .36zm1.02 .37zm1.02 .39zm1.02 .4zm1.02 .43zm1.01 .45zm1.02 .47zm1.02 .49zm1.02 .51zm1.02 .53zm1.02 .55zm1.01 .58zm1.02 .58zm1.02 .61zm1.02 .62zm1.02 .63zm1.01 .65zm1.02 .65zm1.02 .67zm1.02 .67zm1.02 .68zm1.02 .68zm1.01 .69zm1.02 .68zm1.02 .69zm1.02 .69zm1.02 .69zm1.01 .68zm1.02 .68zm1.02 .67zm1.02 .67zm1.02 .65zm1.02 .64zm1.01 .64zm1.02 .62zm1.02 .6zm1.02 .59zm1.02 .57zm1.01 .55zm1.02 .53zm1.02 .51zm1.02 .49zm1.02 .46zm1.02 .44zm1.01 .4zm1.02 .38zm1.02 .35zm1.02 .32zm1.02 .29zm1.01 .25zm1.02 .21zm1.02 .18zm1.02 .14zm1.02 .1zm1.02 .06zm1.01 .01zm1.02-.02zm1.02-.08zm1.02-.12zm1.02-.17zm1.01-.21zm1.02-.26zm1.02-.29zm1.02-.33zm1.02-.36zm1.02-.4zm1.01-.41zm1.02-.44zm1.02-.46zm1.02-.47zm1.02-.49zm1.01-.49zm1.02-.51zm1.02-.5zm1.02-.5zm1.02-.51zm1.02-.49zm1.01-.48zm1.02-.47zm1.02-.46zm1.02-.43zm1.02-.41zm1.01-.38zm1.02-.36zm1.02-.32zm1.02-.29zm1.02-.24zm1.02-.2zm1.01-.16zm1.02-.11zm1.02-.06zm1.02 0zm1.02 .06zm1.01 .12zm1.02 .19zm1.02 .25zm1.02 .33zm1.02 .4zm1.02 .48zm1.01 .56zm1.02 .65zm1.02 .74zm1.02 .82zm1.02 .92zm1.01 1.02zm1.02 1.12zm1.02 1.23zm1.02 1.33zm1.02 1.44zm1.02 1.56zm1.01 1.66zm1.01 1.74zm1 1.82zm.54 1.03zm.96 1.88zm.5 1.01zm.5 1.03zm.51 1.04zm.5 1.07zm.5 1.09zm.51 1.1zm.5 1.11zm.51 1.13zm.5 1.15zm.51 1.16zm.5 1.17zm.51 1.19zm.51 1.19zm.5 1.21zm.51 1.22zm.51 1.22zm.5 1.24zm.51 1.24zm.51 1.24zm.51 1.26zm.5 1.26zm.51 1.26zm.51 1.27zm.51 1.27zm.51 1.27zm.51 1.27zm.51 1.27zm.5 1.27zm.51 1.28zm.51 1.27zm.51 1.26zm.51 1.27zm.51 1.26zm.51 1.25zm.52 1.25zm.51 1.24zm.51 1.24zm.51 1.22zm.51 1.22zm.51 1.21zm.51 1.2zm.52 1.18zm.51 1.18zm.51 1.16zm.52 1.14zm.51 1.14zm.51 1.12zm.52 1.1zm.51 1.08zm.52 1.07zm.51 1.05zm.52 1.03zm.52 1.01zm.56 1.08zm.99 1.82zm1.04 1.82zm1.02 1.7zm1.02 1.57zm1.02 1.47zm1.02 1.34zm1.02 1.22zm1.01 1.09zm1.02 .94zm1.02 .81zm1.02 .65zm1.02 .5zm1.01 .33zm1.02 .17zm1.02-.01zm1.02-.19zm1.02-.38zm1.02-.57zm1.01-.77zm1.02-.95zm1.02-1.13zm1.02-1.31zm1.02-1.47zm1.01-1.64zm1-1.74zm.99-1.88zm.56-1.12zm.51-1.05zm.51-1.09zm.51-1.12zm.51-1.15zm.51-1.19zm.5-1.21zm.51-1.24zm.51-1.27zm.51-1.3zm.51-1.33zm.51-1.35zm.51-1.38zm.51-1.4zm.51-1.42zm.51-1.45zm.51-1.47zm.5-1.49zm.51-1.51zm.51-1.52zm.51-1.55zm.51-1.57zm.51-1.58zm.51-1.59zm.51-1.62zm.51-1.62zm.51-1.64zm.51-1.66zm.5-1.66zm.51-1.68zm.51-1.68zm.51-1.7zm.51-1.7zm.51-1.71zm.51-1.72zm.51-1.72zm.51-1.73zm.51-1.73zm.51-1.74zm.5-1.74zm.51-1.74zm.51-1.74zm.51-1.74zm.51-1.74zm.51-1.74zm.51-1.74zm.51-1.73zm.51-1.73zm.51-1.73zm.51-1.72zm.5-1.71zm.51-1.7zm.51-1.7zm.51-1.69zm.51-1.68zm.51-1.66zm.51-1.66zm.51-1.64zm.51-1.63zm.51-1.62zm.51-1.6zm.5-1.58zm.51-1.57zm.51-1.55zm.51-1.54zm.51-1.51zm.51-1.49zm.51-1.48zm.51-1.45zm.51-1.43zm.51-1.4zm.51-1.39zm.5-1.35zm.51-1.33zm.51-1.31zm.51-1.28zm.51-1.25zm.51-1.22zm.51-1.19zm.51-1.15zm.51-1.13zm.51-1.1zm.51-1.06zm.5-1.03zm.98-1.88zm.55-1zm1.02-1.76zm1.02-1.64zm1.02-1.52zm1.01-1.4zm1.02-1.29zm1.02-1.18zm1.02-1.07zm1.02-.98zm1.02-.87zm1.01-.79zm1.02-.69zm1.02-.61zm1.02-.53zm1.02-.45zm1.01-.37zm1.02-.31zm1.02-.24zm1.02-.18zm1.02-.13zm1.02-.06zm1.01-.02zm1.02 .02zm1.02 .07zm1.02 .11zm1.02 .14zm1.01 .17zm1.02 .2zm1.02 .22zm1.02 .24zm1.02 .26zm1.02 .26zm1.01 .27zm1.02 .27zm1.02 .28zm1.02 .26zm1.02 .26zm1.01 .25zm1.02 .23zm1.02 .2zm1.02 .19zm1.02 .15zm1.02 .12zm1.01 .09zm1.02 .04zm1.02 0zm1.02-.04zm1.02-.1zm1.01-.16zm1.02-.22zm1.02-.27zm1.02-.32zm1.02-.38zm1.02-.42zm1.01-.47zm1.02-.5zm1.02-.55zm1.02-.57zm1.02-.61zm1.01-.64zm1.02-.66zm1.02-.68zm1.02-.69zm1.02-.72zm1.02-.72zm1.01-.73zm1.02-.73zm1.02-.74zm1.02-.73zm1.02-.73zm1.01-.72zm1.02-.7zm1.02-.69zm1.02-.68zm1.02-.65zm1.02-.62zm1.01-.6zm1.02-.56zm1.02-.53zm1.02-.49zm1.02-.45zm1.01-.41zm1.02-.35zm1.02-.31zm1.02-.25zm1.02-.19zm1.02-.13zm1.01-.07zm1.02 0zm1.02 .08zm1.02 .14zm1.02 .23zm1.01 .31zm1.02 .39zm1.02 .48zm1.02 .56zm1.02 .67zm1.02 .76zm1.01 .86zm1.02 .96zm1.02 1.07zm1.02 1.15zm1.02 1.25zm1.01 1.33zm1.02 1.41zm1.02 1.48zm1.02 1.56zm1.02 1.61zm1.02 1.68zm1.01 1.72zm1.01 1.76zm1.01 1.81zm1.01 1.85zm.54 1zm.97 1.84zm.55 1.04zm.98 1.86zm.55 1.08zm.97 1.88zm.56 1.09zm.96 1.89zm.57 1.11zm.96 1.89zm.56 1.11zm.97 1.88zm.56 1.1zm.97 1.88zm.56 1.08zm.97 1.86zm.56 1.05zm.98 1.84zm.54 1.01zm.99 1.81zm1.03 1.83zm1.03 1.79zm1.03 1.73zm1.01 1.67zm1.02 1.6zm1.02 1.54zm1.02 1.47zm1.02 1.4zm1.01 1.31zm1.02 1.23zm1.02 1.14zm1.02 1.05zm1.02 .94zm1.02 .84zm1.01 .73zm1.02 .61zm1.02 .5zm1.02 .37zm1.02 .24zm1.01 .1zm1.02-.03zm1.02-.18zm1.02-.32zm1.02-.45zm1.02-.58zm1.01-.71zm1.02-.83zm1.02-.95zm1.02-1.06zm1.02-1.17zm1.01-1.26zm1.02-1.37zm1.02-1.46zm1.02-1.55zm1.02-1.63zm1.01-1.7zm1.01-1.76zm1-1.83zm.54-1zm.97-1.86zm.56-1.09zm.51-1.01zm.51-1.02zm.51-1.03zm.5-1.05zm.51-1.06zm.51-1.07zm.51-1.08zm.51-1.09zm.51-1.1zm.51-1.1zm.51-1.12zm.51-1.12zm.51-1.13zm.51-1.14zm.5-1.14zm.51-1.14zm.51-1.15zm.51-1.15zm.51-1.16zm.51-1.16zm.51-1.16zm.51-1.17zm.51-1.16zm.51-1.16zm.51-1.17zm.5-1.16zm.51-1.16zm.51-1.16zm.51-1.15zm.51-1.16zm.51-1.15zm.51-1.14zm.51-1.14zm.51-1.13zm.51-1.13zm.51-1.12zm.5-1.12zm.51-1.1zm.51-1.1zm.51-1.08zm.51-1.08zm.51-1.07zm.51-1.05zm.51-1.05zm.51-1.03zm.51-1.02zm.51-1.01zm.97-1.88zm.55-1.05zm.99-1.82zm1.03-1.84zm1.04-1.77zm1.02-1.66zm1.01-1.58zm1.02-1.49zm1.02-1.4zm1.02-1.32zm1.02-1.23zm1.01-1.14zm1.02-1.06zm1.02-.99zm1.02-.9zm1.02-.83zm1.02-.76zm1.01-.69zm1.02-.63zm1.02-.56zm1.02-.49zm1.02-.44zm1.01-.37zm1.02-.32zm1.02-.27zm1.02-.22zm1.02-.17zm1.02-.12zm1.01-.08zm1.02-.04zm1.02-0zm1.02 .03zm1.02 .08zm1.01 .1zm1.02 .13zm1.02 .16zm1.02 .18zm1.02 .21zm1.02 .23zm1.01 .24zm1.02 .26zm1.02 .27zm1.02 .28zm1.02 .29zm1.01 .3zm1.02 .29zm1.02 .3zm1.02 .3zm1.02 .3zm1.02 .28zm1.01 .28zm1.02 .27zm1.02 .26zm1.02 .24zm1.02 .22zm1.01 .2zm1.02 .18zm1.02 .15zm1.02 .13zm1.02 .09zm1.02 .08zm1.01 .04zm1.02 .02zm1.02 0zm1.02-.03zm1.02-.05zm1.01-.07zm1.02-.1zm1.02-.12zm1.02-.14zm1.02-.16zm1.02-.19zm1.01-.2zm1.02-.22zm1.02-.24zm1.02-.26zm1.02-.28zm1.01-.29zm1.02-.31zm1.02-.32zm1.02-.35zm1.02-.35zm1.02-.37zm1.01-.39zm1.02-.39zm1.02-.41zm1.02-.43zm1.02-.43zm1.01-.44zm1.02-.46zm1.02-.47zm1.02-.47zm1.02-.48zm1.02-.5zm1.01-.49zm1.02-.51zm1.02-.51zm1.02-.52zm1.02-.53zm1.01-.53zm1.02-.53zm1.02-.54zm1.02-.54zm1.02-.55zm1.02-.54zm1.01-.55zm1.02-.55zm1.02-.55z"/>
<path d="M81.01 251.49zm1.02-.02zm1.02-.02zm1.01-.02zm1.02-.02zm1.02-.01zm1.02-.01zm1.02-.02zm1.01-0zm1.02-.01zm1.02 .01zm1.02 0zm1.02 .01zm1.02 .02zm1.01 .02zm1.02 .03zm1.02 .03zm1.02 .04zm1.02 .05zm1.01 .06zm1.02 .07zm1.02 .07zm1.02 .09zm1.02 .09zm1.02 .1zm1.01 .12zm1.02 .13zm1.02 .13zm1.02 .15zm1.02 .16zm1.01 .18zm1.02 .19zm1.02 .2zm1.02 .21zm1.02 .23zm1.02 .25zm1.01 .26zm1.02 .27zm1.02 .3zm1.02 .31zm1.02 .32zm1.01 .35zm1.02 .36zm1.02 .38zm1.02 .4zm1.02 .42zm1.02 .43zm1.01 .46zm1.02 .48zm1.02 .5zm1.02 .52zm1.02 .55zm1.01 .56zm1.02 .58zm1.02 .6zm1.02 .61zm1.02 .62zm1.02 .64zm1.01 .65zm1.02 .66zm1.02 .67zm1.02 .68zm1.02 .68zm1.01 .68zm1.02 .69zm1.02 .69zm1.02 .69zm1.02 .69zm1.02 .68zm1.01 .68zm1.02 .68zm1.02 .66zm1.02 .66zm1.02 .65zm1.01 .64zm1.02 .63zm1.02 .61zm1.02 .6zm1.02 .58zm1.02 .56zm1.01 .54zm1.02 .52zm1.02 .5zm1.02 .47zm1.02 .45zm1.01 .42zm1.02 .4zm1.02 .36zm1.02 .34zm1.02 .3zm1.02 .27zm1.01 .23zm1.02 .2zm1.02 .16zm1.02 .12zm1.02 .08zm1.01 .03zm1.02-0zm1.02-.06zm1.02-.09zm1.02-.15zm1.02-.19zm1.01-.24zm1.02-.27zm1.02-.31zm1.02-.35zm1.02-.38zm1.01-.4zm1.02-.43zm1.02-.45zm1.02-.46zm1.02-.48zm1.02-.5zm1.01-.49zm1.02-.51zm1.02-.5zm1.02-.51zm1.02-.49zm1.01-.49zm1.02-.48zm1.02-.46zm1.02-.45zm1.02-.42zm1.02-.4zm1.01-.37zm1.02-.33zm1.02-.31zm1.02-.26zm1.02-.23zm1.01-.18zm1.02-.13zm1.02-.09zm1.02-.02zm1.02 .02zm1.02 .09zm1.01 .16zm1.02 .22zm1.02 .29zm1.02 .36zm1.02 .44zm1.01 .52zm1.02 .61zm1.02 .69zm1.02 .78zm1.02 .87zm1.02 .97zm1.01 1.07zm1.02 1.17zm1.02 1.28zm1.02 1.38zm1.02 1.5zm1.01 1.61zm1.02 1.71zm1 1.78zm1 1.87zm.55 1.06zm.51 1.01zm.51 1.03zm.51 1.04zm.5 1.07zm.51 1.08zm.51 1.1zm.51 1.11zm.51 1.13zm.51 1.15zm.51 1.15zm.51 1.17zm.51 1.19zm.51 1.19zm.51 1.21zm.5 1.21zm.51 1.23zm.51 1.23zm.51 1.24zm.51 1.25zm.51 1.25zm.51 1.26zm.51 1.26zm.51 1.27zm.51 1.27zm.51 1.27zm.5 1.27zm.51 1.27zm.51 1.28zm.51 1.27zm.51 1.27zm.51 1.27zm.51 1.26zm.51 1.26zm.51 1.25zm.51 1.25zm.51 1.25zm.5 1.23zm.51 1.23zm.51 1.22zm.51 1.21zm.51 1.2zm.51 1.18zm.51 1.18zm.51 1.16zm.51 1.15zm.51 1.14zm.51 1.12zm.5 1.1zm.51 1.09zm.51 1.07zm.51 1.05zm.51 1.04zm.51 1.01zm.97 1.88zm.56 1.04zm1 1.79zm1.03 1.77zm1.02 1.63zm1.02 1.52zm1.02 1.4zm1.02 1.29zm1.01 1.15zm1.02 1.02zm1.02 .87zm1.02 .73zm1.02 .58zm1.02 .42zm1.01 .25zm1.02 .08zm1.02-.1zm1.02-.29zm1.02-.47zm1.01-.67zm1.02-.86zm1.02-1.04zm1.02-1.22zm1.02-1.39zm1.02-1.56zm1.01-1.7zm.99-1.8zm.54-1.06zm.94-1.92zm.5-1.06zm.5-1.09zm.5-1.13zm.5-1.15zm.5-1.19zm.5-1.22zm.51-1.24zm.5-1.28zm.5-1.3zm.5-1.32zm.51-1.36zm.5-1.38zm.5-1.4zm.51-1.42zm.5-1.45zm.51-1.47zm.5-1.49zm.51-1.51zm.51-1.53zm.5-1.55zm.51-1.57zm.5-1.58zm.51-1.6zm.51-1.61zm.5-1.63zm.51-1.64zm.51-1.65zm.51-1.67zm.5-1.67zm.51-1.69zm.51-1.7zm.51-1.7zm.5-1.71zm.51-1.72zm.51-1.72zm.51-1.73zm.51-1.73zm.51-1.74zm.51-1.74zm.5-1.74zm.51-1.74zm.51-1.74zm.51-1.74zm.51-1.74zm.51-1.74zm.51-1.73zm.51-1.73zm.51-1.73zm.51-1.72zm.51-1.71zm.51-1.7zm.51-1.7zm.51-1.69zm.51-1.67zm.51-1.67zm.52-1.65zm.51-1.65zm.51-1.63zm.51-1.61zm.51-1.6zm.51-1.58zm.52-1.57zm.51-1.55zm.51-1.53zm.51-1.52zm.52-1.49zm.51-1.47zm.51-1.45zm.52-1.43zm.51-1.4zm.52-1.38zm.51-1.36zm.52-1.33zm.51-1.3zm.52-1.27zm.52-1.25zm.51-1.21zm.52-1.19zm.52-1.16zm.52-1.12zm.52-1.09zm.52-1.06zm.52-1.02zm.56-1.06zm1.01-1.8zm1.03-1.73zm1.02-1.58zm1.02-1.46zm1.01-1.34zm1.02-1.23zm1.02-1.13zm1.02-1.02zm1.02-.93zm1.01-.83zm1.02-.73zm1.02-.66zm1.02-.56zm1.02-.49zm1.02-.41zm1.01-.35zm1.02-.27zm1.02-.21zm1.02-.15zm1.02-.1zm1.01-.04zm1.02 .01zm1.02 .04zm1.02 .09zm1.02 .13zm1.02 .16zm1.01 .18zm1.02 .21zm1.02 .23zm1.02 .25zm1.02 .26zm1.01 .27zm1.02 .27zm1.02 .27zm1.02 .27zm1.02 .27zm1.02 .25zm1.01 .24zm1.02 .21zm1.02 .2zm1.02 .17zm1.02 .14zm1.01 .1zm1.02 .07zm1.02 .02zm1.02-.02zm1.02-.08zm1.02-.12zm1.01-.19zm1.02-.24zm1.02-.3zm1.02-.35zm1.02-.4zm1.01-.45zm1.02-.49zm1.02-.52zm1.02-.56zm1.02-.59zm1.02-.63zm1.01-.64zm1.02-.67zm1.02-.69zm1.02-.71zm1.02-.72zm1.01-.72zm1.02-.73zm1.02-.74zm1.02-.73zm1.02-.73zm1.02-.73zm1.01-.71zm1.02-.7zm1.02-.68zm1.02-.66zm1.02-.64zm1.01-.61zm1.02-.58zm1.02-.55zm1.02-.51zm1.02-.47zm1.02-.43zm1.01-.38zm1.02-.33zm1.02-.28zm1.02-.22zm1.02-.16zm1.01-.1zm1.02-.04zm1.02 .04zm1.02 .11zm1.02 .19zm1.02 .26zm1.01 .35zm1.02 .44zm1.02 .52zm1.02 .61zm1.02 .72zm1.01 .81zm1.02 .91zm1.02 1.01zm1.02 1.11zm1.02 1.21zm1.02 1.29zm1.01 1.37zm1.02 1.44zm1.02 1.52zm1.02 1.59zm1.02 1.65zm1.01 1.7zm1.01 1.74zm1.01 1.78zm1.01 1.83zm1.01 1.87zm.55 1.02zm.97 1.84zm.55 1.06zm.97 1.86zm.56 1.09zm.97 1.88zm.56 1.1zm.96 1.89zm.57 1.11zm.96 1.89zm.56 1.1zm.97 1.89zm.56 1.09zm.97 1.88zm.56 1.07zm.97 1.85zm.55 1.04zm.99 1.83zm1.05 1.92zm1.02 1.81zm1.02 1.77zm1.52 2.56zm1.02 1.64zm1.02 1.57zm1.02 1.51zm1.02 1.43zm1.02 1.36zm1.01 1.27zm1.02 1.18zm1.02 1.1zm1.02 .99zm1.02 .89zm1.01 .79zm1.02 .67zm1.02 .56zm1.02 .43zm1.02 .31zm1.02 .17zm1.01 .04zm1.02-.11zm1.02-.25zm1.02-.39zm1.02-.51zm1.01-.65zm1.02-.77zm1.02-.89zm1.02-1.01zm1.02-1.11zm1.02-1.22zm1.01-1.32zm1.02-1.41zm1.02-1.5zm1.02-1.59zm1.02-1.67zm1.01-1.73zm1-1.79zm1-1.86zm.55-1.04zm.96-1.87zm1.01-2.01zm.51-1.03zm.5-1.03zm.51-1.05zm.5-1.06zm.51-1.07zm.51-1.08zm.5-1.1zm.51-1.1zm.5-1.1zm.51-1.12zm.51-1.12zm.51-1.13zm.5-1.14zm.51-1.14zm.51-1.15zm.51-1.15zm.5-1.15zm.51-1.16zm.51-1.16zm.51-1.16zm.51-1.16zm.51-1.17zm.51-1.16zm.51-1.16zm.51-1.16zm.51-1.17zm.51-1.15zm.51-1.16zm.51-1.15zm.51-1.15zm.51-1.14zm.51-1.14zm.51-1.14zm.51-1.12zm.51-1.12zm.51-1.11zm.51-1.11zm.52-1.09zm.51-1.09zm.51-1.07zm.51-1.07zm.52-1.05zm.51-1.05zm.51-1.03zm.52-1.01zm.51-1.01zm.56-1.08zm.99-1.84zm1.03-1.87zm1.03-1.8zm1.03-1.72zm1.01-1.62zm1.02-1.53zm1.02-1.45zm1.02-1.36zm1.02-1.27zm1.02-1.19zm1.01-1.1zm1.02-1.02zm1.02-.95zm1.02-.87zm1.02-.79zm1.01-.73zm1.02-.65zm1.02-.59zm1.02-.53zm1.02-.47zm1.02-.4zm1.01-.35zm1.02-.3zm1.02-.24zm1.02-.19zm1.02-.15zm1.01-.1zm1.02-.06zm1.02-.02zm1.02 .02zm1.02 .06zm1.02 .08zm1.01 .12zm1.02 .15zm1.02 .17zm1.02 .19zm1.02 .22zm1.01 .23zm1.02 .26zm1.02 .26zm1.02 .28zm1.02 .28zm1.02 .3zm1.01 .29zm1.02 .3zm1.02 .3zm1.02 .3zm1.02 .29zm1.01 .28zm1.02 .28zm1.02 .26zm1.02 .25zm1.02 .23zm1.02 .21zm1.01 .19zm1.02 .17zm1.02 .14zm1.02 .11zm1.02 .08zm1.01 .06zm1.02 .04zm1.02 .01zm1.02-.02zm1.02-.04zm1.02-.06zm1.01-.09zm1.02-.11zm1.02-.13zm1.02-.15zm1.02-.17zm1.01-.2zm1.02-.21zm1.02-.23zm1.02-.25zm1.02-.27zm1.02-.28zm1.01-.3zm1.02-.32zm1.02-.33zm1.02-.35zm1.02-.36zm1.01-.38zm1.02-.39zm1.02-.41zm1.02-.41zm1.02-.43zm1.02-.44zm1.01-.45zm1.02-.46zm1.02-.47zm1.02-.48zm1.02-.49zm1.01-.49zm1.02-.51zm1.02-.51zm1.02-.51zm1.02-.53zm1.02-.52zm1.01-.54zm1.02-.53zm1.02-.54zm1.02-.54zm1.02-.55zm1.01-.55zm1.02-.55zm1.02-.55z"/>
<path d="M235.77 287.59zm1.02 1.81zm1.48 2.8zm27.54 63.73zm.98 1.86zm1.06 1.9zm23.41 3.36zm1.02-1.86zm.96-1.88zm42.82-125.83zm.99-1.84zm1.05-1.82zm109.96-11.09zm1.02 1.78zm1.02 1.83zm1.02 1.86zm.98 1.83zm.55 1.03zm.97 1.85zm.55 1.07zm.97 1.87zm.56 1.09zm.96 1.88zm.57 1.11zm.96 1.89zm.56 1.11zm.97 1.89zm.56 1.1zm.97 1.88zm.56 1.09zm.97 1.87zm.56 1.06zm.97 1.84zm.55 1.03zm.99 1.82zm1.03 1.85zm1.03 1.81zm1.02 1.77zm34.12 2.33zm1.01-1.78zm1.02-1.85zm.98-1.84zm.55-1.06zm.96-1.89zm23.98-52.25zm.98-1.86zm.55-1.03zm1.02-1.84zm1.02-1.78z"/>
<path d="M236.28 288.48zm1.02 1.86zm30.04 68.44zm1.01 1.79zm23.42 1.57zm45.82-131.45zm110.98-11.07zm1.02 1.8zm1.02 1.84zm15.27 29.3zm1.02 1.84zm1.02 1.79zm1.02 1.75zm34.61 1.45zm1.02-1.82zm29.02-61.79zm1.02-1.81z"/>
</g>
<g class="dots blue" stroke-width="1" stroke-linecap="square">
<path d="M637 152h7v1h-7zM637 153h7v1h-7zM637 154h7v1h-7zM637 155h7v1h-7zM637 156h7v1h-7zM637 157h7v1h-7zM639 158h3v1h-3zM586 184h7v1h-7zM586 185h7v1h-7zM586 186h8v1h-8zM586 187h8v1h-8zM586 188h7v1h-7zM586 189h7v1h-7zM588 190h4v1h-4zM536 192h6v1h-6zM535 193h7v1h-7zM535 194h8v1h-8zM535 195h8v1h-8zM535 196h7v1h-7zM535 197h7v1h-7zM537 198h4v1h-4zM434 216h6v1h-6zM433 217h8v1h-8zM433 218h8v1h-8zM433 219h8v1h-8zM433 220h8v1h-8zM433 221h7v1h-7zM435 222h4v1h-4zM383 232h6v1h-6zM382 233h8v1h-8zM382 234h8v1h-8zM382 235h8v1h-8zM382 236h8v1h-8zM383 237h6v1h-6zM384 238h4v1h-4zM332 248h6v1h-6zM331 249h8v1h-8zM331 250h8v1h-8zM331 251h8v1h-8zM331 252h8v1h-8zM332 253h6v1h-6zM333 254h4v1h-4zM77 264h7v1h-7zM128 264h7v1h-7zM77 265h7v1h-7zM128 265h7v1h-7zM77 266h7v1h-7zM127 266h8v1h-8zM77 267h7v1h-7zM127 267h8v1h-8zM77 268h7v1h-7zM128 268h7v1h-7zM77 269h7v1h-7zM128 269h7v1h-7zM79 270h3v1h-3zM129 270h4v1h-4zM230 296h6v1h-6zM230 297h7v1h-7zM229 298h8v1h-8zM229 299h8v1h-8zM229 300h8v1h-8zM230 301h7v1h-7zM231 302h4v1h-4zM179 304h6v1h-6zM179 305h7v1h-7zM178 306h8v1h-8zM178 307h8v1h-8zM179 308h7v1h-7zM179 309h7v1h-7zM180 310h4v1h-4zM485 352h6v1h-6zM484 353h7v1h-7zM484 354h8v1h-8zM484 355h8v1h-8zM484 356h8v1h-8zM484 357h7v1h-7zM486 358h4v1h-4zM281 400h6v1h-6zM280 401h8v1h-8zM280 402h8v1h-8zM280 403h8v1h-8zM280 404h8v1h-8zM281 405h7v1h-7zM282 406h4v1h-4z" fill="#1e9be1"/>
<path d="M80.5 271.5zM78.58 271.01zM82.42 271.01zM77.13 269.66zM83.87 269.66zM76.51 267.78zM84.49 267.78zM76.86 265.84zM84.14 265.84zM78.11 264.3zM82.89 264.3zM79.94 263.54zM81.06 263.54zM131.41 271.5zM129.49 271.01zM133.33 271.01zM128.04 269.66zM134.77 269.66zM127.42 267.78zM135.4 267.78zM127.77 265.84zM135.05 265.84zM129.02 264.3zM133.8 264.3zM130.85 263.54zM131.97 263.54zM182.32 311.5zM180.4 311.01zM184.24 311.01zM178.95 309.66zM185.68 309.66zM178.33 307.78zM186.31 307.78zM178.68 305.84zM185.96 305.84zM179.92 304.3zM184.71 304.3zM181.75 303.54zM182.88 303.54zM233.23 303.5zM231.31 303.01zM235.14 303.01zM229.86 301.66zM236.59 301.66zM229.24 299.78zM237.22 299.78zM229.59 297.84zM236.86 297.84zM230.83 296.3zM235.62 296.3zM232.66 295.54zM233.79 295.54zM284.14 407.5zM282.22 407.01zM286.05 407.01zM280.77 405.66zM287.5 405.66zM280.15 403.78zM288.13 403.78zM280.5 401.84zM287.77 401.84zM281.74 400.3zM286.53 400.3zM283.57 399.54zM284.7 399.54zM335.05 255.5zM333.13 255.01zM336.96 255.01zM331.68 253.66zM338.41 253.66zM331.06 251.78zM339.04 251.78zM331.41 249.84zM338.68 249.84zM332.65 248.3zM337.44 248.3zM334.48 247.54zM335.61 247.54zM385.95 239.5zM384.04 239.01zM387.87 239.01zM382.59 237.66zM389.32 237.66zM381.96 235.78zM389.94 235.78zM382.32 233.84zM389.59 233.84zM383.56 232.3zM388.35 232.3zM385.39 231.54zM386.52 231.54zM436.86 223.5zM434.95 223.01zM438.78 223.01zM433.5 221.66zM440.23 221.66zM432.87 219.78zM440.85 219.78zM433.23 217.84zM440.5 217.84zM434.47 216.3zM439.26 216.3zM436.3 215.54zM437.43 215.54zM487.77 359.5zM485.85 359.01zM489.69 359.01zM484.41 357.66zM491.14 357.66zM483.78 355.78zM491.76 355.78zM484.14 353.84zM491.41 353.84zM485.38 352.3zM490.17 352.3zM487.21 351.54zM488.34 351.54zM538.68 199.5zM536.76 199.01zM540.6 199.01zM535.32 197.66zM542.05 197.66zM534.69 195.78zM542.67 195.78zM535.04 193.84zM542.32 193.84zM536.29 192.3zM541.08 192.3zM538.12 191.54zM539.25 191.54zM589.59 191.5zM587.67 191.01zM591.51 191.01zM586.22 189.66zM592.96 189.66zM585.6 187.78zM593.58 187.78zM585.95 185.84zM593.23 185.84zM587.2 184.3zM591.99 184.3zM589.03 183.54zM590.16 183.54zM640.5 159.5zM638.58 159.01zM642.42 159.01zM637.13 157.66zM643.87 157.66zM636.51 155.78zM644.49 155.78zM636.86 153.84zM644.14 153.84zM638.11 152.3zM642.89 152.3zM639.94 151.54zM641.06 151.54z" stroke="#1e9be1" fill="none"/>
<path d="M80.5 271.5zM77.77 270.43zM83.23 270.43zM76.7 268.76zM84.3 268.76zM76.56 266.79zM84.44 266.79zM77.39 264.99zM83.61 264.99zM78.97 263.8zM82.03 263.8zM131.41 271.5zM128.68 270.43zM134.14 270.43zM127.61 268.76zM135.2 268.76zM127.47 266.79zM135.35 266.79zM128.3 264.99zM134.52 264.99zM129.88 263.8zM132.94 263.8zM182.32 311.5zM179.59 310.43zM185.04 310.43zM178.52 308.76zM186.11 308.76zM178.38 306.79zM186.25 306.79zM179.21 304.99zM185.43 304.99zM180.79 303.8zM183.85 303.8zM233.23 303.5zM230.5 302.43zM235.95 302.43zM229.43 300.76zM237.02 300.76zM229.29 298.79zM237.16 298.79zM230.12 296.99zM236.34 296.99zM231.7 295.8zM234.75 295.8zM284.14 407.5zM281.41 406.43zM286.86 406.43zM280.34 404.76zM287.93 404.76zM280.2 402.79zM288.07 402.79zM281.02 400.99zM287.25 400.99zM282.61 399.8zM285.66 399.8zM335.05 255.5zM332.32 254.43zM337.77 254.43zM331.25 252.76zM338.84 252.76zM331.11 250.79zM338.98 250.79zM331.93 248.99zM338.16 248.99zM333.52 247.8zM336.57 247.8zM385.95 239.5zM383.23 238.43zM388.68 238.43zM382.16 236.76zM389.75 236.76zM382.02 234.79zM389.89 234.79zM382.84 232.99zM389.07 232.99zM384.43 231.8zM387.48 231.8zM436.86 223.5zM434.14 222.43zM439.59 222.43zM433.07 220.76zM440.66 220.76zM432.93 218.79zM440.8 218.79zM433.75 216.99zM439.98 216.99zM435.34 215.8zM438.39 215.8zM487.77 359.5zM485.05 358.43zM490.5 358.43zM483.98 356.76zM491.57 356.76zM483.84 354.79zM491.71 354.79zM484.66 352.99zM490.89 352.99zM486.25 351.8zM489.3 351.8zM538.68 199.5zM535.95 198.43zM541.41 198.43zM534.89 196.76zM542.48 196.76zM534.75 194.79zM542.62 194.79zM535.57 192.99zM541.79 192.99zM537.16 191.8zM540.21 191.8zM589.59 191.5zM586.86 190.43zM592.32 190.43zM585.79 188.76zM593.39 188.76zM585.66 186.79zM593.53 186.79zM586.48 184.99zM592.7 184.99zM588.06 183.8zM591.12 183.8zM640.5 159.5zM637.77 158.43zM643.23 158.43zM636.7 156.76zM644.3 156.76zM636.56 154.79zM644.44 154.79zM637.39 152.99zM643.61 152.99zM638.97 151.8zM642.03 151.8z" stroke="#1e9be1" fill="none"/>
<path d="M79.51 271.38zM81.49 271.38zM130.42 271.38zM132.4 271.38zM181.33 311.38zM183.31 311.38zM232.24 303.38zM234.22 303.38zM283.15 407.38zM285.13 407.38zM334.06 255.38zM336.03 255.38zM384.96 239.38zM386.94 239.38zM435.87 223.38zM437.85 223.38zM486.78 359.38zM488.76 359.38zM537.69 199.38zM539.67 199.38zM588.6 191.38zM590.58 191.38zM639.51 159.38zM641.49 159.38z" stroke="#1e9be1" fill="none"/>
<path d="M638 153h5v1h-5zM638 154h5v1h-5zM638 155h5v1h-5zM638 156h5v1h-5zM639 157h3v1h-3zM587 185h5v1h-5zM587 186h6v1h-6zM587 187h6v1h-6zM587 188h5v1h-5zM588 189h3v1h-3zM536 193h5v1h-5zM536 194h6v1h-6zM536 195h6v1h-6zM536 196h5v1h-5zM537 197h4v1h-4zM434 217h6v1h-6zM434 218h6v1h-6zM434 219h6v1h-6zM434 220h5v1h-5zM435 221h4v1h-4zM383 233h6v1h-6zM383 234h6v1h-6zM383 235h6v1h-6zM383 236h5v1h-5zM384 237h4v1h-4zM332 249h6v1h-6zM332 250h6v1h-6zM332 251h6v1h-6zM333 252h5v1h-5zM333 253h4v1h-4zM78 265h5v1h-5zM129 265h5v1h-5zM78 266h5v1h-5zM128 266h6v1h-6zM78 267h5v1h-5zM128 267h6v1h-6zM78 268h5v1h-5zM129 268h5v1h-5zM79 269h3v1h-3zM130 269h3v1h-3zM230 297h6v1h-6zM230 298h6v1h-6zM230 299h6v1h-6zM231 300h5v1h-5zM231 301h4v1h-4zM180 305h5v1h-5zM179 306h6v1h-6zM179 307h6v1h-6zM180 308h5v1h-5zM180 309h4v1h-4zM485 353h6v1h-6zM485 354h6v1h-6zM485 355h6v1h-6zM485 356h5v1h-5zM486 357h4v1h-4zM281 401h6v1h-6zM281 402h6v1h-6zM281 403h6v1h-6zM282 404h5v1h-5zM282 405h4v1h-4z" fill="#fff"/>
<path d="M80.5 270.5zM78.64 269.86zM82.35 269.86zM77.58 268.21zM83.42 268.21zM77.77 266.25zM83.23 266.25zM79.13 264.83zM81.87 264.83zM131.41 270.5zM129.55 269.86zM133.26 269.86zM128.49 268.21zM134.32 268.21zM128.68 266.25zM134.14 266.25zM130.04 264.83zM132.78 264.83zM182.32 310.5zM180.46 309.86zM184.17 309.86zM179.4 308.21zM185.23 308.21zM179.59 306.25zM185.05 306.25zM180.95 304.83zM183.69 304.83zM233.23 302.5zM231.37 301.86zM235.08 301.86zM230.31 300.21zM236.14 300.21zM230.5 298.25zM235.96 298.25zM231.86 296.83zM234.6 296.83zM284.14 406.5zM282.28 405.86zM285.99 405.86zM281.22 404.21zM287.05 404.21zM281.41 402.25zM286.86 402.25zM282.76 400.83zM285.51 400.83zM335.05 254.5zM333.19 253.86zM336.9 253.86zM332.13 252.21zM337.96 252.21zM332.32 250.25zM337.77 250.25zM333.67 248.83zM336.42 248.83zM385.95 238.5zM384.1 237.86zM387.81 237.86zM383.04 236.21zM388.87 236.21zM383.23 234.25zM388.68 234.25zM384.58 232.83zM387.33 232.83zM436.86 222.5zM435.01 221.86zM438.72 221.86zM433.95 220.21zM439.78 220.21zM434.14 218.25zM439.59 218.25zM435.49 216.83zM438.24 216.83zM487.77 358.5zM485.92 357.86zM489.63 357.86zM484.86 356.21zM490.69 356.21zM485.04 354.25zM490.5 354.25zM486.4 352.83zM489.14 352.83zM538.68 198.5zM536.83 197.86zM540.54 197.86zM535.77 196.21zM541.6 196.21zM535.95 194.25zM541.41 194.25zM537.31 192.83zM540.05 192.83zM589.59 190.5zM587.74 189.86zM591.45 189.86zM586.68 188.21zM592.51 188.21zM586.86 186.25zM592.32 186.25zM588.22 184.83zM590.96 184.83zM640.5 158.5zM638.64 157.86zM642.35 157.86zM637.58 156.21zM643.42 156.21zM637.77 154.25zM643.23 154.25zM639.13 152.83zM641.87 152.83z" stroke="#fff" fill="none"/>
<path d="M80.5 270.5zM77.98 269.12zM83.02 269.12zM77.51 267.21zM83.49 267.21zM78.33 265.43zM82.67 265.43zM80.08 264.53zM131.41 270.5zM128.88 269.12zM133.93 269.12zM128.42 267.21zM134.4 267.21zM129.24 265.43zM133.58 265.43zM130.99 264.53zM182.32 310.5zM179.79 309.12zM184.84 309.12zM179.33 307.21zM185.3 307.21zM180.15 305.43zM184.49 305.43zM181.9 304.53zM233.23 302.5zM230.7 301.12zM235.75 301.12zM230.24 299.21zM236.21 299.21zM231.06 297.43zM235.4 297.43zM232.8 296.53zM284.14 406.5zM281.61 405.12zM286.66 405.12zM281.15 403.21zM287.12 403.21zM281.97 401.43zM286.31 401.43zM283.71 400.53zM335.05 254.5zM332.52 253.12zM337.57 253.12zM332.06 251.21zM338.03 251.21zM332.88 249.43zM337.21 249.43zM334.62 248.53zM385.95 238.5zM383.43 237.12zM388.48 237.12zM382.97 235.21zM388.94 235.21zM383.79 233.43zM388.12 233.43zM385.53 232.53zM436.86 222.5zM434.34 221.12zM439.39 221.12zM433.88 219.21zM439.85 219.21zM434.69 217.43zM439.03 217.43zM436.44 216.53zM487.77 358.5zM485.25 357.12zM490.3 357.12zM484.79 355.21zM490.76 355.21zM485.6 353.43zM489.94 353.43zM487.35 352.53zM538.68 198.5zM536.16 197.12zM541.21 197.12zM535.7 195.21zM541.67 195.21zM536.51 193.43zM540.85 193.43zM538.26 192.53zM589.59 190.5zM587.07 189.12zM592.12 189.12zM586.6 187.21zM592.58 187.21zM587.42 185.43zM591.76 185.43zM589.17 184.53zM640.5 158.5zM637.98 157.12zM643.02 157.12zM637.51 155.21zM643.49 155.21zM638.33 153.43zM642.67 153.43zM640.08 152.53z" stroke="#fff" fill="none"/>
<path d="M79.52 270.33zM81.48 270.33zM80.92 264.53zM130.43 270.33zM132.39 270.33zM131.83 264.53zM181.34 310.33zM183.3 310.33zM182.74 304.53zM232.25 302.33zM234.21 302.33zM233.65 296.53zM283.15 406.33zM285.12 406.33zM284.56 400.53zM334.06 254.33zM336.03 254.33zM335.47 248.53zM384.97 238.33zM386.94 238.33zM386.38 232.53zM435.88 222.33zM437.84 222.33zM437.29 216.53zM486.79 358.33zM488.75 358.33zM488.2 352.53zM537.7 198.33zM539.66 198.33zM539.11 192.53zM588.61 190.33zM590.57 190.33zM590.01 184.53zM639.52 158.33zM641.48 158.33zM640.92 152.53z" stroke="#fff" fill="none"/>
</g>
<g class="dots green" stroke-width="1" stroke-linecap="square">
<path d="M434 144h6v1h-6zM485 144h6v1h-6zM586 144h7v1h-7zM433 145h8v1h-8zM484 145h7v1h-7zM586 145h7v1h-7zM433 146h8v1h-8zM484 146h8v1h-8zM586 146h8v1h-8zM433 147h8v1h-8zM484 147h8v1h-8zM586 147h8v1h-8zM433 148h8v1h-8zM484 148h8v1h-8zM586 148h7v1h-7zM433 149h7v1h-7zM484 149h7v1h-7zM586 149h7v1h-7zM435 150h4v1h-4zM486 150h4v1h-4zM588 150h4v1h-4zM536 160h6v1h-6zM535 161h7v1h-7zM535 162h8v1h-8zM535 163h8v1h-8zM535 164h7v1h-7zM535 165h7v1h-7zM537 166h4v1h-4zM383 168h6v1h-6zM637 168h7v1h-7zM382 169h8v1h-8zM637 169h7v1h-7zM382 170h8v1h-8zM637 170h7v1h-7zM382 171h8v1h-8zM637 171h7v1h-7zM382 172h8v1h-8zM637 172h7v1h-7zM383 173h6v1h-6zM637 173h7v1h-7zM384 174h4v1h-4zM639 174h3v1h-3zM332 176h6v1h-6zM331 177h8v1h-8zM331 178h8v1h-8zM331 179h8v1h-8zM331 180h8v1h-8zM332 181h6v1h-6zM333 182h4v1h-4zM77 208h7v1h-7zM77 209h7v1h-7zM77 210h7v1h-7zM77 211h7v1h-7zM77 212h7v1h-7zM77 213h7v1h-7zM79 214h3v1h-3zM128 240h7v1h-7zM179 240h6v1h-6zM128 241h7v1h-7zM179 241h7v1h-7zM127 242h8v1h-8zM178 242h8v1h-8zM127 243h8v1h-8zM178 243h8v1h-8zM128 244h7v1h-7zM179 244h7v1h-7zM128 245h7v1h-7zM179 245h7v1h-7zM129 246h4v1h-4zM180 246h4v1h-4zM230 248h6v1h-6zM230 249h7v1h-7zM229 250h8v1h-8zM229 251h8v1h-8zM229 252h8v1h-8zM230 253h7v1h-7zM231 254h4v1h-4zM281 296h6v1h-6zM280 297h8v1h-8zM280 298h8v1h-8zM280 299h8v1h-8zM280 300h8v1h-8zM281 301h7v1h-7zM282 302h4v1h-4z" fill="#026c65"/>
<path d="M80.5 215.5zM78.58 215.01zM82.42 215.01zM77.13 213.66zM83.87 213.66zM76.51 211.78zM84.49 211.78zM76.86 209.84zM84.14 209.84zM78.11 208.3zM82.89 208.3zM79.94 207.54zM81.06 207.54zM131.41 247.5zM129.49 247.01zM133.33 247.01zM128.04 245.66zM134.77 245.66zM127.42 243.78zM135.4 243.78zM127.77 241.84zM135.05 241.84zM129.02 240.3zM133.8 240.3zM130.85 239.54zM131.97 239.54zM182.32 247.5zM180.4 247.01zM184.24 247.01zM178.95 245.66zM185.68 245.66zM178.33 243.78zM186.31 243.78zM178.68 241.84zM185.96 241.84zM179.92 240.3zM184.71 240.3zM181.75 239.54zM182.88 239.54zM233.23 255.5zM231.31 255.01zM235.14 255.01zM229.86 253.66zM236.59 253.66zM229.24 251.78zM237.22 251.78zM229.59 249.84zM236.86 249.84zM230.83 248.3zM235.62 248.3zM232.66 247.54zM233.79 247.54zM284.14 303.5zM282.22 303.01zM286.05 303.01zM280.77 301.66zM287.5 301.66zM280.15 299.78zM288.13 299.78zM280.5 297.84zM287.77 297.84zM281.74 296.3zM286.53 296.3zM283.57 295.54zM284.7 295.54zM335.05 183.5zM333.13 183.01zM336.96 183.01zM331.68 181.66zM338.41 181.66zM331.06 179.78zM339.04 179.78zM331.41 177.84zM338.68 177.84zM332.65 176.3zM337.44 176.3zM334.48 175.54zM335.61 175.54zM385.95 175.5zM384.04 175.01zM387.87 175.01zM382.59 173.66zM389.32 173.66zM381.96 171.78zM389.94 171.78zM382.32 169.84zM389.59 169.84zM383.56 168.3zM388.35 168.3zM385.39 167.54zM386.52 167.54zM436.86 151.5zM434.95 151.01zM438.78 151.01zM433.5 149.66zM440.23 149.66zM432.87 147.78zM440.85 147.78zM433.23 145.84zM440.5 145.84zM434.47 144.3zM439.26 144.3zM436.3 143.54zM437.43 143.54zM487.77 151.5zM485.85 151.01zM489.69 151.01zM484.41 149.66zM491.14 149.66zM483.78 147.78zM491.76 147.78zM484.14 145.84zM491.41 145.84zM485.38 144.3zM490.17 144.3zM487.21 143.54zM488.34 143.54zM538.68 167.5zM536.76 167.01zM540.6 167.01zM535.32 165.66zM542.05 165.66zM534.69 163.78zM542.67 163.78zM535.04 161.84zM542.32 161.84zM536.29 160.3zM541.08 160.3zM538.12 159.54zM539.25 159.54zM589.59 151.5zM587.67 151.01zM591.51 151.01zM586.22 149.66zM592.96 149.66zM585.6 147.78zM593.58 147.78zM585.95 145.84zM593.23 145.84zM587.2 144.3zM591.99 144.3zM589.03 143.54zM590.16 143.54zM640.5 175.5zM638.58 175.01zM642.42 175.01zM637.13 173.66zM643.87 173.66zM636.51 171.78zM644.49 171.78zM636.86 169.84zM644.14 169.84zM638.11 168.3zM642.89 168.3zM639.94 167.54zM641.06 167.54z" stroke="#026c65" fill="none"/>
<path d="M80.5 215.5zM77.77 214.43zM83.23 214.43zM76.7 212.76zM84.3 212.76zM76.56 210.79zM84.44 210.79zM77.39 208.99zM83.61 208.99zM78.97 207.8zM82.03 207.8zM131.41 247.5zM128.68 246.43zM134.14 246.43zM127.61 244.76zM135.2 244.76zM127.47 242.79zM135.35 242.79zM128.3 240.99zM134.52 240.99zM129.88 239.8zM132.94 239.8zM182.32 247.5zM179.59 246.43zM185.04 246.43zM178.52 244.76zM186.11 244.76zM178.38 242.79zM186.25 242.79zM179.21 240.99zM185.43 240.99zM180.79 239.8zM183.85 239.8zM233.23 255.5zM230.5 254.43zM235.95 254.43zM229.43 252.76zM237.02 252.76zM229.29 250.79zM237.16 250.79zM230.12 248.99zM236.34 248.99zM231.7 247.8zM234.75 247.8zM284.14 303.5zM281.41 302.43zM286.86 302.43zM280.34 300.76zM287.93 300.76zM280.2 298.79zM288.07 298.79zM281.02 296.99zM287.25 296.99zM282.61 295.8zM285.66 295.8zM335.05 183.5zM332.32 182.43zM337.77 182.43zM331.25 180.76zM338.84 180.76zM331.11 178.79zM338.98 178.79zM331.93 176.99zM338.16 176.99zM333.52 175.8zM336.57 175.8zM385.95 175.5zM383.23 174.43zM388.68 174.43zM382.16 172.76zM389.75 172.76zM382.02 170.79zM389.89 170.79zM382.84 168.99zM389.07 168.99zM384.43 167.8zM387.48 167.8zM436.86 151.5zM434.14 150.43zM439.59 150.43zM433.07 148.76zM440.66 148.76zM432.93 146.79zM440.8 146.79zM433.75 144.99zM439.98 144.99zM435.34 143.8zM438.39 143.8zM487.77 151.5zM485.05 150.43zM490.5 150.43zM483.98 148.76zM491.57 148.76zM483.84 146.79zM491.71 146.79zM484.66 144.99zM490.89 144.99zM486.25 143.8zM489.3 143.8zM538.68 167.5zM535.95 166.43zM541.41 166.43zM534.89 164.76zM542.48 164.76zM534.75 162.79zM542.62 162.79zM535.57 160.99zM541.79 160.99zM537.16 159.8zM540.21 159.8zM589.59 151.5zM586.86 150.43zM592.32 150.43zM585.79 148.76zM593.39 148.76zM585.66 146.79zM593.53 146.79zM586.48 144.99zM592.7 144.99zM588.06 143.8zM591.12 143.8zM640.5 175.5zM637.77 174.43zM643.23 174.43zM636.7 172.76zM644.3 172.76zM636.56 170.79zM644.44 170.79zM637.39 168.99zM643.61 168.99zM638.97 167.8zM642.03 167.8z" stroke="#026c65" fill="none"/>
<path d="M79.51 215.38zM81.49 215.38zM130.42 247.38zM132.4 247.38zM181.33 247.38zM183.31 247.38zM232.24 255.38zM234.22 255.38zM283.15 303.38zM285.13 303.38zM334.06 183.38zM336.03 183.38zM384.96 175.38zM386.94 175.38zM435.87 151.38zM437.85 151.38zM486.78 151.38zM488.76 151.38zM537.69 167.38zM539.67 167.38zM588.6 151.38zM590.58 151.38zM639.51 175.38zM641.49 175.38z" stroke="#026c65" fill="none"/>
<path d="M434 145h6v1h-6zM485 145h6v1h-6zM587 145h5v1h-5zM434 146h6v1h-6zM485 146h6v1h-6zM587 146h6v1h-6zM434 147h6v1h-6zM485 147h6v1h-6zM587 147h6v1h-6zM434 148h5v1h-5zM485 148h5v1h-5zM587 148h5v1h-5zM435 149h4v1h-4zM486 149h4v1h-4zM588 149h3v1h-3zM536 161h5v1h-5zM536 162h6v1h-6zM536 163h6v1h-6zM536 164h5v1h-5zM537 165h4v1h-4zM383 169h6v1h-6zM638 169h5v1h-5zM383 170h6v1h-6zM638 170h5v1h-5zM383 171h6v1h-6zM638 171h5v1h-5zM383 172h5v1h-5zM638 172h5v1h-5zM384 173h4v1h-4zM639 173h3v1h-3zM332 177h6v1h-6zM332 178h6v1h-6zM332 179h6v1h-6zM333 180h5v1h-5zM333 181h4v1h-4zM78 209h5v1h-5zM78 210h5v1h-5zM78 211h5v1h-5zM78 212h5v1h-5zM79 213h3v1h-3zM129 241h5v1h-5zM180 241h5v1h-5zM128 242h6v1h-6zM179 242h6v1h-6zM128 243h6v1h-6zM179 243h6v1h-6zM129 244h5v1h-5zM180 244h5v1h-5zM130 245h3v1h-3zM180 245h4v1h-4zM230 249h6v1h-6zM230 250h6v1h-6zM230 251h6v1h-6zM231 252h5v1h-5zM231 253h4v1h-4zM281 297h6v1h-6zM281 298h6v1h-6zM281 299h6v1h-6zM282 300h5v1h-5zM282 301h4v1h-4z" fill="#fff"/>
<path d="M80.5 214.5zM78.64 213.86zM82.35 213.86zM77.58 212.21zM83.42 212.21zM77.77 210.25zM83.23 210.25zM79.13 208.83zM81.87 208.83zM131.41 246.5zM129.55 245.86zM133.26 245.86zM128.49 244.21zM134.32 244.21zM128.68 242.25zM134.14 242.25zM130.04 240.83zM132.78 240.83zM182.32 246.5zM180.46 245.86zM184.17 245.86zM179.4 244.21zM185.23 244.21zM179.59 242.25zM185.05 242.25zM180.95 240.83zM183.69 240.83zM233.23 254.5zM231.37 253.86zM235.08 253.86zM230.31 252.21zM236.14 252.21zM230.5 250.25zM235.96 250.25zM231.86 248.83zM234.6 248.83zM284.14 302.5zM282.28 301.86zM285.99 301.86zM281.22 300.21zM287.05 300.21zM281.41 298.25zM286.86 298.25zM282.76 296.83zM285.51 296.83zM335.05 182.5zM333.19 181.86zM336.9 181.86zM332.13 180.21zM337.96 180.21zM332.32 178.25zM337.77 178.25zM333.67 176.83zM336.42 176.83zM385.95 174.5zM384.1 173.86zM387.81 173.86zM383.04 172.21zM388.87 172.21zM383.23 170.25zM388.68 170.25zM384.58 168.83zM387.33 168.83zM436.86 150.5zM435.01 149.86zM438.72 149.86zM433.95 148.21zM439.78 148.21zM434.14 146.25zM439.59 146.25zM435.49 144.83zM438.24 144.83zM487.77 150.5zM485.92 149.86zM489.63 149.86zM484.86 148.21zM490.69 148.21zM485.04 146.25zM490.5 146.25zM486.4 144.83zM489.14 144.83zM538.68 166.5zM536.83 165.86zM540.54 165.86zM535.77 164.21zM541.6 164.21zM535.95 162.25zM541.41 162.25zM537.31 160.83zM540.05 160.83zM589.59 150.5zM587.74 149.86zM591.45 149.86zM586.68 148.21zM592.51 148.21zM586.86 146.25zM592.32 146.25zM588.22 144.83zM590.96 144.83zM640.5 174.5zM638.64 173.86zM642.35 173.86zM637.58 172.21zM643.42 172.21zM637.77 170.25zM643.23 170.25zM639.13 168.83zM641.87 168.83z" stroke="#fff" fill="none"/>
<path d="M80.5 214.5zM77.98 213.12zM83.02 213.12zM77.51 211.21zM83.49 211.21zM78.33 209.43zM82.67 209.43zM80.08 208.53zM131.41 246.5zM128.88 245.12zM133.93 245.12zM128.42 243.21zM134.4 243.21zM129.24 241.43zM133.58 241.43zM130.99 240.53zM182.32 246.5zM179.79 245.12zM184.84 245.12zM179.33 243.21zM185.3 243.21zM180.15 241.43zM184.49 241.43zM181.9 240.53zM233.23 254.5zM230.7 253.12zM235.75 253.12zM230.24 251.21zM236.21 251.21zM231.06 249.43zM235.4 249.43zM232.8 248.53zM284.14 302.5zM281.61 301.12zM286.66 301.12zM281.15 299.21zM287.12 299.21zM281.97 297.43zM286.31 297.43zM283.71 296.53zM335.05 182.5zM332.52 181.12zM337.57 181.12zM332.06 179.21zM338.03 179.21zM332.88 177.43zM337.21 177.43zM334.62 176.53zM385.95 174.5zM383.43 173.12zM388.48 173.12zM382.97 171.21zM388.94 171.21zM383.79 169.43zM388.12 169.43zM385.53 168.53zM436.86 150.5zM434.34 149.12zM439.39 149.12zM433.88 147.21zM439.85 147.21zM434.69 145.43zM439.03 145.43zM436.44 144.53zM487.77 150.5zM485.25 149.12zM490.3 149.12zM484.79 147.21zM490.76 147.21zM485.6 145.43zM489.94 145.43zM487.35 144.53zM538.68 166.5zM536.16 165.12zM541.21 165.12zM535.7 163.21zM541.67 163.21zM536.51 161.43zM540.85 161.43zM538.26 160.53zM589.59 150.5zM587.07 149.12zM592.12 149.12zM586.6 147.21zM592.58 147.21zM587.42 145.43zM591.76 145.43zM589.17 144.53zM640.5 174.5zM637.98 173.12zM643.02 173.12zM637.51 171.21zM643.49 171.21zM638.33 169.43zM642.67 169.43zM640.08 168.53z" stroke="#fff" fill="none"/>
<path d="M79.52 214.33zM81.48 214.33zM80.92 208.53zM130.43 246.33zM132.39 246.33zM131.83 240.53zM181.34 246.33zM183.3 246.33zM182.74 240.53zM232.25 254.33zM234.21 254.33zM233.65 248.53zM283.15 302.33zM285.12 302.33zM284.56 296.53zM334.06 182.33zM336.03 182.33zM335.47 176.53zM384.97 174.33zM386.94 174.33zM386.38 168.53zM435.88 150.33zM437.84 150.33zM437.29 144.53zM486.79 150.33zM488.75 150.33zM488.2 144.53zM537.7 166.33zM539.66 166.33zM539.11 160.53zM588.61 150.33zM590.57 150.33zM590.01 144.53zM639.52 174.33zM641.48 174.33zM640.92 168.53z" stroke="#fff" fill="none"/>
</g>
<g class="dots gray" stroke-width="1" stroke-linecap="square">
<path d="M637 160h7v1h-7zM637 161h7v1h-7zM637 162h7v1h-7zM637 163h7v1h-7zM637 164h7v1h-7zM637 165h7v1h-7zM639 166h3v1h-3zM586 176h7v1h-7zM586 177h7v1h-7zM586 178h8v1h-8zM586 179h8v1h-8zM586 180h7v1h-7zM586 181h7v1h-7zM588 182h4v1h-4zM536 184h6v1h-6zM535 185h7v1h-7zM535 186h8v1h-8zM535 187h8v1h-8zM535 188h7v1h-7zM535 189h7v1h-7zM537 190h4v1h-4zM434 200h6v1h-6zM433 201h8v1h-8zM433 202h8v1h-8zM433 203h8v1h-8zM433 204h8v1h-8zM433 205h7v1h-7zM435 206h4v1h-4zM383 216h6v1h-6zM382 217h8v1h-8zM382 218h8v1h-8zM382 219h8v1h-8zM382 220h8v1h-8zM383 221h6v1h-6zM384 222h4v1h-4zM332 232h6v1h-6zM331 233h8v1h-8zM331 234h8v1h-8zM331 235h8v1h-8zM331 236h8v1h-8zM332 237h6v1h-6zM333 238h4v1h-4zM77 248h7v1h-7zM77 249h7v1h-7zM77 250h7v1h-7zM77 251h7v1h-7zM77 252h7v1h-7zM77 253h7v1h-7zM79 254h3v1h-3zM128 256h7v1h-7zM128 257h7v1h-7zM127 258h8v1h-8zM127 259h8v1h-8zM128 260h7v1h-7zM128 261h7v1h-7zM129 262h4v1h-4zM485 272h6v1h-6zM484 273h7v1h-7zM484 274h8v1h-8zM484 275h8v1h-8zM484 276h8v1h-8zM484 277h7v1h-7zM486 278h4v1h-4zM179 280h6v1h-6zM230 280h6v1h-6zM179 281h7v1h-7zM230 281h7v1h-7zM178 282h8v1h-8zM229 282h8v1h-8zM178 283h8v1h-8zM229 283h8v1h-8zM179 284h7v1h-7zM229 284h8v1h-8zM179 285h7v1h-7zM230 285h7v1h-7zM180 286h4v1h-4zM231 286h4v1h-4zM281 368h6v1h-6zM280 369h8v1h-8zM280 370h8v1h-8zM280 371h8v1h-8zM280 372h8v1h-8zM281 373h7v1h-7zM282 374h4v1h-4z" fill="#999999"/>
<path d="M80.5 255.5zM78.58 255.01zM82.42 255.01zM77.13 253.66zM83.87 253.66zM76.51 251.78zM84.49 251.78zM76.86 249.84zM84.14 249.84zM78.11 248.3zM82.89 248.3zM79.94 247.54zM81.06 247.54zM131.41 263.5zM129.49 263.01zM133.33 263.01zM128.04 261.66zM134.77 261.66zM127.42 259.78zM135.4 259.78zM127.77 257.84zM135.05 257.84zM129.02 256.3zM133.8 256.3zM130.85 255.54zM131.97 255.54zM182.32 287.5zM180.4 287.01zM184.24 287.01zM178.95 285.66zM185.68 285.66zM178.33 283.78zM186.31 283.78zM178.68 281.84zM185.96 281.84zM179.92 280.3zM184.71 280.3zM181.75 279.54zM182.88 279.54zM233.23 287.5zM231.31 287.01zM235.14 287.01zM229.86 285.66zM236.59 285.66zM229.24 283.78zM237.22 283.78zM229.59 281.84zM236.86 281.84zM230.83 280.3zM235.62 280.3zM232.66 279.54zM233.79 279.54zM284.14 375.5zM282.22 375.01zM286.05 375.01zM280.77 373.66zM287.5 373.66zM280.15 371.78zM288.13 371.78zM280.5 369.84zM287.77 369.84zM281.74 368.3zM286.53 368.3zM283.57 367.54zM284.7 367.54zM335.05 239.5zM333.13 239.01zM336.96 239.01zM331.68 237.66zM338.41 237.66zM331.06 235.78zM339.04 235.78zM331.41 233.84zM338.68 233.84zM332.65 232.3zM337.44 232.3zM334.48 231.54zM335.61 231.54zM385.95 223.5zM384.04 223.01zM387.87 223.01zM382.59 221.66zM389.32 221.66zM381.96 219.78zM389.94 219.78zM382.32 217.84zM389.59 217.84zM383.56 216.3zM388.35 216.3zM385.39 215.54zM386.52 215.54zM436.86 207.5zM434.95 207.01zM438.78 207.01zM433.5 205.66zM440.23 205.66zM432.87 203.78zM440.85 203.78zM433.23 201.84zM440.5 201.84zM434.47 200.3zM439.26 200.3zM436.3 199.54zM437.43 199.54zM487.77 279.5zM485.85 279.01zM489.69 279.01zM484.41 277.66zM491.14 277.66zM483.78 275.78zM491.76 275.78zM484.14 273.84zM491.41 273.84zM485.38 272.3zM490.17 272.3zM487.21 271.54zM488.34 271.54zM538.68 191.5zM536.76 191.01zM540.6 191.01zM535.32 189.66zM542.05 189.66zM534.69 187.78zM542.67 187.78zM535.04 185.84zM542.32 185.84zM536.29 184.3zM541.08 184.3zM538.12 183.54zM539.25 183.54zM589.59 183.5zM587.67 183.01zM591.51 183.01zM586.22 181.66zM592.96 181.66zM585.6 179.78zM593.58 179.78zM585.95 177.84zM593.23 177.84zM587.2 176.3zM591.99 176.3zM589.03 175.54zM590.16 175.54zM640.5 167.5zM638.58 167.01zM642.42 167.01zM637.13 165.66zM643.87 165.66zM636.51 163.78zM644.49 163.78zM636.86 161.84zM644.14 161.84zM638.11 160.3zM642.89 160.3zM639.94 159.54zM641.06 159.54z" stroke="#999999" fill="none"/>
<path d="M80.5 255.5zM77.77 254.43zM83.23 254.43zM76.7 252.76zM84.3 252.76zM76.56 250.79zM84.44 250.79zM77.39 248.99zM83.61 248.99zM78.97 247.8zM82.03 247.8zM131.41 263.5zM128.68 262.43zM134.14 262.43zM127.61 260.76zM135.2 260.76zM127.47 258.79zM135.35 258.79zM128.3 256.99zM134.52 256.99zM129.88 255.8zM132.94 255.8zM182.32 287.5zM179.59 286.43zM185.04 286.43zM178.52 284.76zM186.11 284.76zM178.38 282.79zM186.25 282.79zM179.21 280.99zM185.43 280.99zM180.79 279.8zM183.85 279.8zM233.23 287.5zM230.5 286.43zM235.95 286.43zM229.43 284.76zM237.02 284.76zM229.29 282.79zM237.16 282.79zM230.12 280.99zM236.34 280.99zM231.7 279.8zM234.75 279.8zM284.14 375.5zM281.41 374.43zM286.86 374.43zM280.34 372.76zM287.93 372.76zM280.2 370.79zM288.07 370.79zM281.02 368.99zM287.25 368.99zM282.61 367.8zM285.66 367.8zM335.05 239.5zM332.32 238.43zM337.77 238.43zM331.25 236.76zM338.84 236.76zM331.11 234.79zM338.98 234.79zM331.93 232.99zM338.16 232.99zM333.52 231.8zM336.57 231.8zM385.95 223.5zM383.23 222.43zM388.68 222.43zM382.16 220.76zM389.75 220.76zM382.02 218.79zM389.89 218.79zM382.84 216.99zM389.07 216.99zM384.43 215.8zM387.48 215.8zM436.86 207.5zM434.14 206.43zM439.59 206.43zM433.07 204.76zM440.66 204.76zM432.93 202.79zM440.8 202.79zM433.75 200.99zM439.98 200.99zM435.34 199.8zM438.39 199.8zM487.77 279.5zM485.05 278.43zM490.5 278.43zM483.98 276.76zM491.57 276.76zM483.84 274.79zM491.71 274.79zM484.66 272.99zM490.89 272.99zM486.25 271.8zM489.3 271.8zM538.68 191.5zM535.95 190.43zM541.41 190.43zM534.89 188.76zM542.48 188.76zM534.75 186.79zM542.62 186.79zM535.57 184.99zM541.79 184.99zM537.16 183.8zM540.21 183.8zM589.59 183.5zM586.86 182.43zM592.32 182.43zM585.79 180.76zM593.39 180.76zM585.66 178.79zM593.53 178.79zM586.48 176.99zM592.7 176.99zM588.06 175.8zM591.12 175.8zM640.5 167.5zM637.77 166.43zM643.23 166.43zM636.7 164.76zM644.3 164.76zM636.56 162.79zM644.44 162.79zM637.39 160.99zM643.61 160.99zM638.97 159.8zM642.03 159.8z" stroke="#999999" fill="none"/>
<path d="M79.51 255.38zM81.49 255.38zM130.42 263.38zM132.4 263.38zM181.33 287.38zM183.31 287.38zM232.24 287.38zM234.22 287.38zM283.15 375.38zM285.13 375.38zM334.06 239.38zM336.03 239.38zM384.96 223.38zM386.94 223.38zM435.87 207.38zM437.85 207.38zM486.78 279.38zM488.76 279.38zM537.69 191.38zM539.67 191.38zM588.6 183.38zM590.58 183.38zM639.51 167.38zM641.49 167.38z" stroke="#999999" fill="none"/>
<path d="M638 161h5v1h-5zM638 162h5v1h-5zM638 163h5v1h-5zM638 164h5v1h-5zM639 165h3v1h-3zM587 177h5v1h-5zM587 178h6v1h-6zM587 179h6v1h-6zM587 180h5v1h-5zM588 181h3v1h-3zM536 185h5v1h-5zM536 186h6v1h-6zM536 187h6v1h-6zM536 188h5v1h-5zM537 189h4v1h-4zM434 201h6v1h-6zM434 202h6v1h-6zM434 203h6v1h-6zM434 204h5v1h-5zM435 205h4v1h-4zM383 217h6v1h-6zM383 218h6v1h-6zM383 219h6v1h-6zM383 220h5v1h-5zM384 221h4v1h-4zM332 233h6v1h-6zM332 234h6v1h-6zM332 235h6v1h-6zM333 236h5v1h-5zM333 237h4v1h-4zM78 249h5v1h-5zM78 250h5v1h-5zM78 251h5v1h-5zM78 252h5v1h-5zM79 253h3v1h-3zM129 257h5v1h-5zM128 258h6v1h-6zM128 259h6v1h-6zM129 260h5v1h-5zM130 261h3v1h-3zM485 273h6v1h-6zM485 274h6v1h-6zM485 275h6v1h-6zM485 276h5v1h-5zM486 277h4v1h-4zM180 281h5v1h-5zM230 281h6v1h-6zM179 282h6v1h-6zM230 282h6v1h-6zM179 283h6v1h-6zM230 283h6v1h-6zM180 284h5v1h-5zM231 284h5v1h-5zM180 285h4v1h-4zM231 285h4v1h-4zM281 369h6v1h-6zM281 370h6v1h-6zM281 371h6v1h-6zM282 372h5v1h-5zM282 373h4v1h-4z" fill="#fff"/>
<path d="M80.5 254.5zM78.64 253.86zM82.35 253.86zM77.58 252.21zM83.42 252.21zM77.77 250.25zM83.23 250.25zM79.13 248.83zM81.87 248.83zM131.41 262.5zM129.55 261.86zM133.26 261.86zM128.49 260.21zM134.32 260.21zM128.68 258.25zM134.14 258.25zM130.04 256.83zM132.78 256.83zM182.32 286.5zM180.46 285.86zM184.17 285.86zM179.4 284.21zM185.23 284.21zM179.59 282.25zM185.05 282.25zM180.95 280.83zM183.69 280.83zM233.23 286.5zM231.37 285.86zM235.08 285.86zM230.31 284.21zM236.14 284.21zM230.5 282.25zM235.96 282.25zM231.86 280.83zM234.6 280.83zM284.14 374.5zM282.28 373.86zM285.99 373.86zM281.22 372.21zM287.05 372.21zM281.41 370.25zM286.86 370.25zM282.76 368.83zM285.51 368.83zM335.05 238.5zM333.19 237.86zM336.9 237.86zM332.13 236.21zM337.96 236.21zM332.32 234.25zM337.77 234.25zM333.67 232.83zM336.42 232.83zM385.95 222.5zM384.1 221.86zM387.81 221.86zM383.04 220.21zM388.87 220.21zM383.23 218.25zM388.68 218.25zM384.58 216.83zM387.33 216.83zM436.86 206.5zM435.01 205.86zM438.72 205.86zM433.95 204.21zM439.78 204.21zM434.14 202.25zM439.59 202.25zM435.49 200.83zM438.24 200.83zM487.77 278.5zM485.92 277.86zM489.63 277.86zM484.86 276.21zM490.69 276.21zM485.04 274.25zM490.5 274.25zM486.4 272.83zM489.14 272.83zM538.68 190.5zM536.83 189.86zM540.54 189.86zM535.77 188.21zM541.6 188.21zM535.95 186.25zM541.41 186.25zM537.31 184.83zM540.05 184.83zM589.59 182.5zM587.74 181.86zM591.45 181.86zM586.68 180.21zM592.51 180.21zM586.86 178.25zM592.32 178.25zM588.22 176.83zM590.96 176.83zM640.5 166.5zM638.64 165.86zM642.35 165.86zM637.58 164.21zM643.42 164.21zM637.77 162.25zM643.23 162.25zM639.13 160.83zM641.87 160.83z" stroke="#fff" fill="none"/>
<path d="M80.5 254.5zM77.98 253.12zM83.02 253.12zM77.51 251.21zM83.49 251.21zM78.33 249.43zM82.67 249.43zM80.08 248.53zM131.41 262.5zM128.88 261.12zM133.93 261.12zM128.42 259.21zM134.4 259.21zM129.24 257.43zM133.58 257.43zM130.99 256.53zM182.32 286.5zM179.79 285.12zM184.84 285.12zM179.33 283.21zM185.3 283.21zM180.15 281.43zM184.49 281.43zM181.9 280.53zM233.23 286.5zM230.7 285.12zM235.75 285.12zM230.24 283.21zM236.21 283.21zM231.06 281.43zM235.4 281.43zM232.8 280.53zM284.14 374.5zM281.61 373.12zM286.66 373.12zM281.15 371.21zM287.12 371.21zM281.97 369.43zM286.31 369.43zM283.71 368.53zM335.05 238.5zM332.52 237.12zM337.57 237.12zM332.06 235.21zM338.03 235.21zM332.88 233.43zM337.21 233.43zM334.62 232.53zM385.95 222.5zM383.43 221.12zM388.48 221.12zM382.97 219.21zM388.94 219.21zM383.79 217.43zM388.12 217.43zM385.53 216.53zM436.86 206.5zM434.34 205.12zM439.39 205.12zM433.88 203.21zM439.85 203.21zM434.69 201.43zM439.03 201.43zM436.44 200.53zM487.77 278.5zM485.25 277.12zM490.3 277.12zM484.79 275.21zM490.76 275.21zM485.6 273.43zM489.94 273.43zM487.35 272.53zM538.68 190.5zM536.16 189.12zM541.21 189.12zM535.7 187.21zM541.67 187.21zM536.51 185.43zM540.85 185.43zM538.26 184.53zM589.59 182.5zM587.07 181.12zM592.12 181.12zM586.6 179.21zM592.58 179.21zM587.42 177.43zM591.76 177.43zM589.17 176.53zM640.5 166.5zM637.98 165.12zM643.02 165.12zM637.51 163.21zM643.49 163.21zM638.33 161.43zM642.67 161.43zM640.08 160.53z" stroke="#fff" fill="none"/>
<path d="M79.52 254.33zM81.48 254.33zM80.92 248.53zM130.43 262.33zM132.39 262.33zM131.83 256.53zM181.34 286.33zM183.3 286.33zM182.74 280.53zM232.25 286.33zM234.21 286.33zM233.65 280.53zM283.15 374.33zM285.12 374.33zM284.56 368.53zM334.06 238.33zM336.03 238.33zM335.47 232.53zM384.97 222.33zM386.94 222.33zM386.38 216.53zM435.88 206.33zM437.84 206.33zM437.29 200.53zM486.79 278.33zM488.75 278.33zM488.2 272.53zM537.7 190.33zM539.66 190.33zM539.11 184.53zM588.61 182.33zM590.57 182.33zM590.01 176.53zM639.52 166.33zM641.48 166.33zM640.92 160.53z" stroke="#fff" fill="none"/>
</g>
<text class="wm" x="235.6" y="413" font-size="24" fill="#9a9a9a" stroke="#9a9a9a" stroke-width=".25" opacity="0.5">© KrasotaiMedicina.ru</text>
<g class="legend" font-size="16" fill="#000" stroke="#000" stroke-width=".2">
<path d="M80 487h13.1a2 2 0 0 1 2 2v11.1a2 2 0 0 1-2 2h-11.1a2 2 0 0 1-2-2z" fill="#1e9be1" stroke="none"/><text x="103.8" y="500.5">разовая моча ~ 315р. (+4.65%)</text>
<path d="M80 521h13.1a2 2 0 0 1 2 2v11.1a2 2 0 0 1-2 2h-11.1a2 2 0 0 1-2-2z" fill="#026c65" stroke="none"/><text x="103.8" y="534.5">суточная моча ~ 313р. (+1.62%)</text>
<path d="M80 555h13.1a2 2 0 0 1 2 2v11.1a2 2 0 0 1-2 2h-11.1a2 2 0 0 1-2-2z" fill="#999999" stroke="none"/><text x="103.8" y="568.5">Средняя цена услуги ~ 314р. (+3.63%)</text>
</g>
</svg>
</body></html>
